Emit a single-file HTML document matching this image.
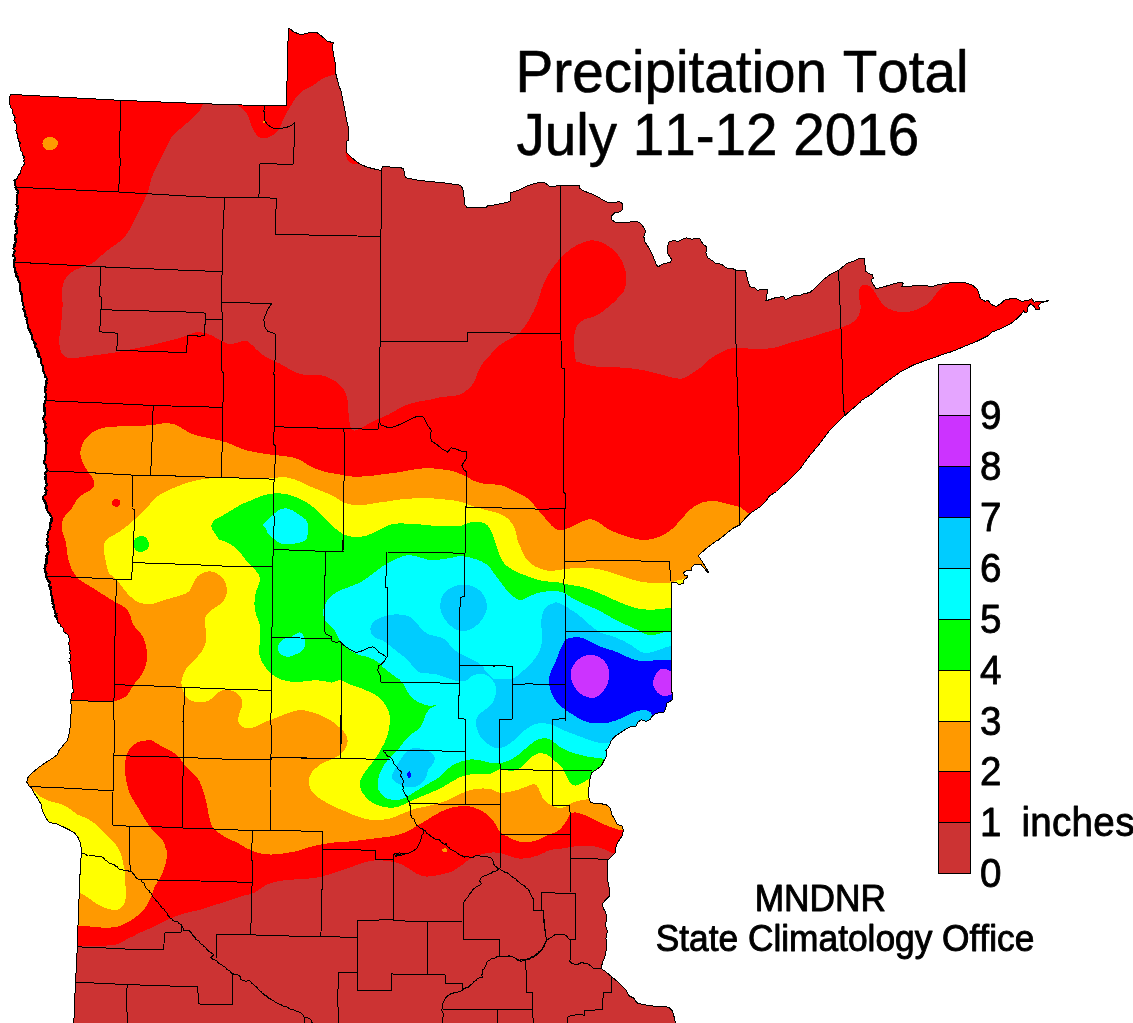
<!DOCTYPE html>
<html lang="en">
<head>
<meta charset="utf-8">
<title>Precipitation Total July 11-12 2016</title>
<style>
html,body{margin:0;padding:0;background:#fff;}
body{width:1133px;height:1023px;overflow:hidden;}
svg{display:block;}
text{font-family:"Liberation Sans",sans-serif;fill:#000;font-kerning:none;font-variant-ligatures:none;}
.tx text{stroke:#000;stroke-width:0.6px;stroke-linejoin:round;}
.tx text.c{stroke-width:0.9px;}
.tx text.n{stroke-width:0.8px;}
.tx text.u{letter-spacing:0.3px;}
.t{font-size:56.6px;}
.n{font-size:38.6px;}
.c{font-size:35.3px;text-anchor:middle;}
.cl{fill:none;stroke:#000;stroke-width:1;stroke-linejoin:round;shape-rendering:crispEdges;}
.st{fill:none;stroke:#000;stroke-width:1;stroke-linejoin:round;shape-rendering:crispEdges;}
</style>
</head>
<body>
<svg width="1133" height="1023" viewBox="0 0 1133 1023">
<defs><clipPath id="mn"><path d="M10.2,94.4L120,100.3L200,103.6L242.4,105L286.5,105.9L287.4,61.8L288.3,30.9L289.1,28.2L293.6,31.8L300.6,34.8L305.9,33.5L311.2,32.1L316.5,32.3L321.8,36.2L327.1,41L333.6,42.9L332,45.9L333.3,53L335,61.8L335.9,74.1L338.6,84.7L341.2,91.8L343,100.6L344.7,109.4L346.5,120L348.3,127.1L348.8,135.9L348.3,140.3L346.2,141.2L346.2,151.8L350,156.2L355.3,160.6L360.6,164.5L367.7,167.3L376.5,169.5L380.9,170.3L382.7,166.8L387.1,166.3L392.4,167.7L400,167.3L400,167.4L403.5,168.8L405.3,177.7L415.9,179.8L426.5,181.2L444.1,182.9L460,185.1L462.7,188.2L463.9,195.3L464.4,204.1L466.7,207.3L477.7,207.3L486.5,207.3L488.3,205L491.8,205.5L498.9,204.1L505.9,202.7L510.3,201L510.9,192.7L514.7,191.4L520,189.7L525.3,186.8L530.6,184.7L537.7,182.9L544.7,182.6L549.2,186.1L555.3,186.1L560.6,185.6L576.5,185.6L579.2,185.1L579.7,188.2L583.6,190.9L590.6,193.5L600,198L600,198.5L607.1,202.1L612.4,202.9L619.4,201.5L622.6,203.8L622.9,209.1L620.3,211.8L615,212.7L611.5,216.2L612,220.2L615.9,222.4L626.5,222.4L635.3,221.5L639.7,222.4L643.2,226.8L645.5,231.2L643.8,236.5L645,241.8L649.4,248.8L653,255.9L655.6,263L657.9,267L663.5,263.8L670.6,262.1L671.5,259.4L668,254.1L667.1,247.1L669.2,241.8L674.1,240.4L677.7,241.8L681.2,239.7L686.5,237.9L691.8,239.1L699.7,238.3L701.5,241.8L704.1,245.3L706.8,246.7L705.9,252.4L707.7,257.7L713,261.2L714.7,263L721.8,264.4L726.2,267.9L734.2,269.1L735.9,270L741.2,270.4L745.6,270L746.5,275.3L748.3,282.4L750,286.8L755.3,288L757.1,290.3L764.2,289.1L768,289.4L766.8,294.7L765.9,300.9L774.8,297.9L783.6,296.5L785.3,299.7L794.2,295.6L800,295.6L802.9,294.1L810,292.4L817.1,286.2L824.1,279.1L831.2,273.8L838.3,270.3L840.9,268.5L847.1,263.2L854.1,261L858.6,258.5L864.4,258.5L865.1,265.9L865.6,271.2L869.1,273.8L872.7,275.1L873.2,278.3L870.9,280L874.4,286.2L876.2,288.8L885.9,286.2L894.7,283.5L902.2,282.1L903.2,283.9L901.8,286.7L908.9,286.7L915.9,285.3L926.5,285.7L931.8,286.7L938.9,284.4L947.7,283.2L956.5,282.1L965.3,282.7L972.4,285L977.7,289.7L978.6,292.4L980.3,298.6L984.7,301.2L988.3,300.8L991.8,304.7L996.2,306.5L1000.6,303.8L1004.1,300.3L1011.2,298.6L1016.5,298.6L1021.8,301.2L1027.1,300.8L1031.5,298.6L1034.2,302.1L1039.5,301.6L1048.3,300.8L1041.2,303L1038.6,305.6L1039.5,309.1L1035.9,310L1034.2,306.5L1030.6,303.8L1028.9,305.6L1027.1,309.1L1028,311.8L1025.3,312.7L1023.6,310.9L1021.8,313.6L1016.5,318.9L1011.2,323.3L1004.1,326.8L998.9,329.4L991.8,332.1L988.3,335.6L983,338.3L975.9,341.8L970.6,343.9L963.5,346.7L956.5,349.7L949.4,352.4L942.4,354.5L935.3,357.3L928.2,359.5L921.2,362.1L914.1,364.7L907.1,368.3L900,372.2L885.9,382.4L878.9,387.7L871.8,393.9L864.7,398.3L862.1,400.1L860,402.4L843.6,416.5L829.5,430.6L818.9,444.7L810,455.3L799.5,469.4L794.2,474.7L787.1,481.8L781.8,486.2L776.5,491.5L769.5,495.9L765.9,501.2L760.6,506.5L755.3,510L750,513.6L744.7,518.9L739.5,525L732.4,528.6L727.1,533L721.8,537.4L718.3,540.1L719.4,538.8L707.1,547.7L698.3,555.6L701.8,560.9L708.8,572.4L708,572.8L700.9,564.4L700,564L694.7,564.4L691.2,568L691.6,570.6L685.9,571L683.2,573.2L685,575.5L687.7,575.9L686.8,578.1L684.1,579.4L683.2,583.8L678.8,584.3L675.3,582.1L671.8,582.1L671.5,583L671.5,631.8L671.5,691.8L672.6,693.6L672.6,699.8L669.5,701.5L666.8,703.3L665.9,707.7L664.2,712.1L658.9,712.6L655.3,713.9L651.8,716.5L650,720.1L649.2,719.7L646.5,721.5L641.2,719.7L637.7,722.4L635.9,726.2L630.6,726.8L625.3,729.4L620,733L614.7,736.5L611.2,740.9L608.6,747.1L605.9,750.6L606.8,755.9L604.1,760.3L601.5,765.6L597.1,769.1L591.8,772.7L590,778.9L589.1,785.9L588.3,793L589.1,798.3L590.4,802.7L598.9,803.6L605.9,804.4L610.3,808L611.6,814.2L614.7,819.5L617.4,824.7L621.8,825.6L623.2,830L622.7,835.3L620,838.9L617.4,843.3L615.6,847.7L615.1,853L611.2,856.5L608,860.1L607.7,859.8L608,865.9L607.3,874.8L608,881.8L609.4,888.9L609.8,896L605.9,899.5L602.4,903.9L603.3,908.3L605.9,912.7L606.3,918.9L605.6,926L607.3,931.3L605.9,938.3L606.8,947.1L605,956L602.4,963L601,968.3L605.9,971.9L611.2,976.3L616.5,980.7L621.8,986L626.2,990.4L628.9,995.7L634.2,998.3L636.8,1002.8L641.2,1004L648.3,1005.4L655.3,1006.3L662.4,1006.3L668.6,1007.2L672.1,1010.7L673.9,1016L675.6,1023.9L73.8,1023.9L74.5,1001.9L75.6,982.5L76.3,966.6L77.3,947.1L77.7,931.3L78.6,913.6L79.1,896L79.8,878.3L80.8,860.7L81.6,850.1L80.3,843L81.6,850L80.3,843L77.7,836.8L74.1,832.4L68.8,829.7L61.8,826.2L56.5,823.6L49.4,822.7L46.2,818.3L42.4,811.2L41,804.1L38,798.9L34.4,793.6L31.8,788.3L29.1,786.1L26.8,782.1L28.2,776.8L32.7,772.4L38,768L44.1,763.5L51.2,759.1L57.4,754.7L59.1,750.3L62.7,745.9L67.1,740.6L68.8,735.3L70.3,726.5L70.6,717.7L71.5,708.8L70.6,700L71.5,697.1L71.8,695.3L71.3,693.3L73.5,692L73.3,690L72.7,688.3L72.8,686.5L72.3,684.8L73,683L72.7,681.2L71.7,679.6L71.4,677.8L71.8,675.9L71.9,674.1L71.5,672.4L70.4,670.8L70.9,668.8L70.1,667.2L71.1,665.1L69.7,663.6L68.9,661.7L71,660.1L69.9,658.3L70.2,656.5L70.3,654.7L69.4,653L70.5,651.2L69.3,649.5L69.5,647.7L69.7,645.9L68.5,644L68.9,642L70.1,639.8L68.8,638L68.5,635.6L66.9,634.1L65.3,632.7L63.3,631.8L63.9,629L62.7,627.6L60.9,626.5L60.6,624.5L58.5,623.3L57.5,621.6L57.4,619.4L56.7,617.7L57.1,615.7L55.9,614.1L55.8,612.2L54.7,610.6L53.8,609L54.1,607.1L54.1,605.2L54,603.4L53,601.8L53.3,599.9L51.8,598.3L52.9,596.4L51.2,594.8L51.5,593L51.8,591L50.8,589.4L49.6,587.8L50,585.9L49.4,584.1L48.8,582.4L49.1,580.3L46.6,579.2L46.2,577.3L46.2,575.3L47.2,573.5L46.7,571.7L45.1,570.1L45.1,568.3L45.5,566.5L45.9,564.7L45.3,562.8L45.9,561.1L45.5,559.3L46.8,557.7L47.5,556L46.4,554L48.6,552.5L48.7,550.7L48,548.8L48.4,547L48.1,545.2L47,543.6L47.4,541.7L46.8,540L47.7,538.4L47.4,536.5L46.9,534.5L48.5,533L48.5,531.2L48.6,529.4L49.7,527.8L49.7,525.9L50.3,524.2L51.7,522.9L50.6,520.9L52.2,519.7L52.1,518L50.3,515.3L49.3,513.3L47.7,511.8L47.4,510L46,508.5L45.9,506.7L46.2,504.7L46.1,502.5L43.7,501.5L43.2,499.5L43.1,497.5L44,495.8L45,494.2L45.5,492.4L45.8,490.6L45,488.7L45.2,486.9L46.5,485.3L46.8,483.6L45.8,481.9L46.5,480L46.7,478.2L44.9,476.6L45.5,474.7L45.7,473L45.7,471.2L46.7,469.5L46.2,467.7L46.6,465.8L44.8,464.7L43.9,463.3L43.8,461.5L45.1,460.2L43.8,458L44.9,456.6L45.5,455.1L46.2,453.6L45.4,451.8L46.4,450L45.9,448.3L45.1,446.5L45.5,444.7L45.5,442.9L46.3,441.2L45.7,439.4L46.2,437.7L44.9,436.1L45.3,434.2L44.3,432.5L44.5,430.6L45,428.9L44.4,427L44.5,425.2L45.5,423.5L45.6,421.4L43.7,420.2L43.2,418.3L43.6,416.3L44.9,414.8L45.5,413L45.6,411.1L45.2,409.4L45.1,407.5L44.1,405.9L44.1,404L44.9,402.3L45.5,400.6L45.5,398.8L46,397.1L46.2,395.3L46,393.5L45.6,391.7L44,390.2L44.5,388.2L45,386.4L46.4,384.9L46.8,382.9L45.6,381.3L47,379.4L46.2,377.7L46,375.8L44.8,374.2L44.3,372.4L43.4,370.8L43.2,368.8L43.3,366.9L42.3,365.3L41.4,363.7L40.4,362L41,360L40.1,358.6L40.7,356.7L39.7,355.3L39,353.9L39.1,352.1L36.7,351.3L37.1,349.5L36.6,347.6L35,346.2L34.7,344.3L33.6,342.7L33.5,340.6L32.5,339L32.9,336.8L31.9,335.2L31.4,333.3L30,331.8L28.6,330.3L28.5,328.4L29,326.3L26.9,325L27.4,323L26.3,321.4L25.8,319.6L27,317.6L25.4,316L25.6,314.2L24.9,312.4L23.5,310.9L23.2,309.1L23.5,307.1L22.9,305.3L23.4,303.5L22.2,301.8L22,300.1L21.2,298.4L22.1,296.5L20.8,294.9L20.6,293.1L20.4,291.3L20.8,289.4L20.3,287.7L19.5,286L20.2,283.8L18.3,282.5L18.9,280.4L17.7,278.9L16.3,277.3L16.8,275.3L16.4,273.5L16.2,271.7L15.3,270.1L15,268.3L14.6,266.2L14.8,264L13.8,262.1L13.1,260.4L14,258.8L14.1,257.2L14.6,255.6L13.3,254L14.1,252.4L14.1,250.6L13.4,248.7L15,247.1L15.6,245.4L15,243.5L15,241.7L16.3,240.1L16.2,238.3L15.1,236.3L16.4,234.7L16.8,233L15.7,231.3L16.1,229.5L17.1,227.6L15.5,225.9L16.4,224.1L15.1,222.4L15.1,220.7L15.9,218.8L17.2,217.2L15.6,215.2L16.1,213.4L18,211.9L16.9,209.9L17.7,208.2L16.9,206.5L16.4,204.8L17.1,202.9L16,201.3L16.8,199.4L16.3,197.6L16.5,195.8L17.8,194.2L16.7,192.3L17.7,190.6L16.9,188.7L15.4,187.3L15,185.3L15.8,183.4L15.5,181.6L14.1,180L16,179.5L17.1,178.3L17.7,176.5L18.6,174.8L20.3,173.4L20.3,171.2L21.5,169.6L21.4,167.4L22.9,165.9L24,164.6L24.7,163.1L23.5,161L25.1,159.8L23.8,158.6L24.2,156.5L22.9,155.3L23,153.4L22,151.8L20.6,150.3L20.8,148.3L19.9,146.6L19.3,144.9L20.5,142.7L18.4,141.4L18.5,139.5L17.7,137.8L17.9,135.8L17.3,134.1L16.5,132.4L15.9,130.6L16.2,128.9L16.7,127.1L16.8,125.3L15.9,123.6L14.5,122L13.8,120.3L15.2,118L14.6,116.2L13.2,114.7L12.4,113.1L12,111.3L12,109.3L11,107.7L10.6,105.9L9.5,104.3L9.6,102.5L9.5,100.7L9.7,98.9Z"/></clipPath></defs>
<rect x="0" y="0" width="1133" height="1023" fill="#fff"/>
<g clip-path="url(#mn)" shape-rendering="crispEdges">
<rect x="0" y="0" width="1133" height="1023" fill="#ff0000"/>
<path fill="#cc3333" d="M204.4,103.3C207.9,101.6 221.2,100.6 221.2,100.6L237.1,105.2C237.1,105.2 242.2,108.4 244.1,110.3C246,112.2 247.4,114 248.5,116.5C249.7,119 250.2,122.7 251.2,125.3C252.2,128 253.3,130.3 254.7,132.4C256.2,134.5 258,136.8 260,137.7C262.1,138.6 264.7,138.3 267.1,137.7C269.4,137.1 272.1,135.6 274.1,134.2C276.2,132.7 278,131.2 279.4,128.9C280.9,126.5 281.8,122.7 283,120C284.1,117.4 285,115.6 286.5,113C288,110.3 290,106.9 291.8,104.1C293.6,101.4 295,98.6 297.1,96.2C299.1,93.9 301.5,91.8 304.1,90C306.8,88.3 310.3,87.2 313,85.6C315.6,84 317.7,81.8 320,80.3C322.4,78.8 324.6,77.8 327.1,76.8C329.6,75.8 332.7,75.2 335,74.1C337.4,73.1 341.2,70.6 341.2,70.6L360,0L1000,0L1000,270L953,280C953,280 950.9,282.5 949.4,283.5C948,284.6 946,284.9 944.1,286.2C942.2,287.5 939.9,289.4 938,291.5C936,293.6 934.6,296.3 932.7,298.6C930.7,300.8 929,303 926.5,304.7C924,306.5 920.6,308 917.7,309.1C914.7,310.3 911.8,311.4 908.8,311.8C905.9,312.2 902.3,311.9 900,311.8C897.7,311.6 896.8,311.5 894.7,310.9C892.7,310.3 889.7,309.4 887.7,308.3C885.6,307.1 884,305.6 882.4,303.8C880.8,302.1 879.3,299.7 878,297.7C876.6,295.6 875.8,293.3 874.4,291.5C873.1,289.7 871.6,287.8 870,286.7C868.4,285.6 866.3,284.9 864.7,285C863.1,285 861.3,285.8 860.3,287.1C859.3,288.3 858.7,290.3 858.6,292.4C858.4,294.4 859.1,297.1 859.4,299.4C859.8,301.8 860.8,304.1 860.8,306.5C860.8,308.8 860.3,311.4 859.4,313.6C858.6,315.8 857.7,317.9 855.9,319.7C854.1,321.6 851.3,323.2 848.8,324.5C846.3,325.8 843.5,326.7 840.9,327.7C838.3,328.6 836,329.4 833,330.3C829.9,331.3 825.9,332.2 822.4,333.3C818.8,334.4 815.3,335.7 811.8,336.9C808.2,338 804.7,339.1 801.2,340C797.7,341 794.1,341.7 790.6,342.7C787.1,343.7 783.8,345.2 780,346.2C776.2,347.2 772.7,348.2 767.7,348.6C762.7,349 755.3,348.7 750,348.6C744.7,348.5 739.7,347.9 735.9,348C732.1,348.2 730.3,348.3 727.1,349.5C723.9,350.6 719.6,353 716.5,354.8C713.4,356.5 710.9,358.1 708.6,360.1C706.2,362 704.9,364.1 702.4,366.2C699.9,368.2 696.5,370.4 693.6,372.4C690.6,374.3 687.4,376.6 684.7,377.7C682.1,378.7 680.6,378.8 677.7,378.5C674.7,378.3 671.2,377.3 667.1,376.2C663,375.2 658.3,373.6 653,372.4C647.7,371.1 641.2,369.6 635.3,368.8C629.4,368 623.5,367.7 617.7,367.4C611.8,367.1 603.9,367.3 600,367.1C596.1,366.9 596.3,366.5 594.2,366.2C592,365.8 589.5,365.5 587.1,364.9C584.8,364.4 582,363.5 580.1,362.6C578.1,361.8 576.7,363.8 575.6,360C574.6,356.2 574,344.8 573.9,340.1C573.8,335.3 574.5,333.7 575.1,331.2C575.7,328.7 576,327 577.4,325C578.8,323.1 581.1,321.1 583.6,319.8C586.1,318.4 589.7,318.1 592.4,317.1C595.1,316.1 598.1,314.7 600,313.6C601.9,312.5 601.8,312 603.5,310.6C605.3,309.3 608.2,307.4 610.6,305.3C612.9,303.3 615.4,300.6 617.7,298.3C619.9,295.9 622.4,293.9 623.8,291.2C625.2,288.6 625.8,285.6 626.1,282.4C626.4,279.1 626.3,275.3 625.6,271.8C624.9,268.3 623.7,264.4 622.1,261.2C620.4,258 618.4,255 615.9,252.4C613.4,249.7 609.7,247.1 607.1,245.3C604.4,243.5 602.7,242.6 600,241.8C597.3,241 593.7,240.1 590.6,240.3C587.6,240.5 584.8,241.8 581.8,243C578.9,244.1 575.9,245.5 573,247.4C570.1,249.3 567.1,251.6 564.2,254.4C561.2,257.2 558,260.8 555.3,264.1C552.7,267.5 550.3,271.2 548.3,274.7C546.2,278.3 544.5,281.8 543,285.3C541.5,288.9 540.6,292.4 539.5,295.9C538.3,299.5 537.2,303.3 535.9,306.5C534.6,309.7 533.1,312.4 531.5,315.3C529.9,318.3 528.1,321.4 526.2,324.2C524.3,327 522.2,329.9 520,332.1C517.8,334.3 515,336.1 513,337.4C510.9,338.7 510,338.6 507.7,340.1C505.3,341.5 502.6,342.7 498.9,346C495.2,349.3 488.4,356.9 485.6,360C482.8,363.1 483.3,362.6 482.1,364.4C480.9,366.2 479.6,368.4 478.6,370.6C477.5,372.8 476.9,375.3 475.9,377.7C474.9,380 473.8,382.7 472.4,384.7C470.9,386.8 469.1,388.4 467.1,390C465,391.6 462.7,393.4 460,394.4C457.4,395.5 454.4,395.7 451.2,396.2C448,396.6 444.1,396.5 440.6,397.1C437.1,397.7 433.5,399 430,399.7C426.5,400.5 422.9,400.7 419.4,401.5C415.9,402.2 412.1,403 408.8,404.1C405.6,405.2 403.3,406.3 400,408C396.7,409.7 392.5,412.5 388.9,414.4C385.3,416.2 381.8,417.5 378.3,419.1C374.8,420.8 370.8,422.8 367.7,424.4C364.6,426 362,427.8 359.8,428.8C357.5,429.9 355.9,430.8 354.5,430.6C353,430.5 351.8,429.7 350.9,428C350,426.2 349.6,423.1 349.2,420C348.7,416.9 348.6,413 348.3,409.4C348,405.9 348.1,402.1 347.4,398.8C346.7,395.6 345.5,392.7 343.9,390C342.2,387.4 340.2,385 337.7,382.9C335.2,380.9 331.8,379 328.9,377.7C325.9,376.3 323.3,375.4 320,375C316.8,374.6 312.7,375.2 309.4,375C306.2,374.9 303.6,374.9 300.6,374.1C297.7,373.4 294.4,371.9 291.8,370.6C289.1,369.3 287.1,367.5 284.7,366.2C282.4,364.9 280,363.8 277.7,362.6C275.3,361.5 272.7,360.2 270.6,359.2C268.5,358.1 267.4,357.8 265.3,356.5C263.3,355.2 260.3,353 258.3,351.2C256.2,349.5 254.7,347.5 253,345.9C251.2,344.3 249.4,342.3 247.7,341.5C245.9,340.7 244.4,340.7 242.4,341C240.3,341.3 237.7,342.8 235.3,343.3C233,343.8 230.6,344.3 228.2,343.8C225.9,343.4 223.5,341.8 221.2,340.6C218.8,339.5 216.5,337.9 214.1,336.8C211.8,335.6 209.4,334.3 207.1,333.6C204.7,332.8 202.1,332.3 200,332.2C197.9,332 196.3,332.2 194.2,332.7C192,333.2 190.1,334.3 187.1,335.3C184.2,336.4 180.6,337.7 176.5,338.9C172.4,340 167.1,341.2 162.4,342.4C157.7,343.6 153,344.9 148.3,345.9C143.6,347 138.9,347.6 134.2,348.6C129.4,349.5 124.7,350.7 120,351.6C115.3,352.5 110.6,353.2 105.9,353.9C101.2,354.6 96.2,355.1 91.8,355.6C87.4,356.2 83.3,357 79.4,357.4C75.6,357.8 71.6,358.7 68.8,358.3C66,357.8 64.1,356.5 62.7,354.8C61.2,353 60.6,350.3 60,347.7C59.4,345 59,342.1 59.1,338.9C59.3,335.6 60.5,332.1 60.9,328.3C61.3,324.5 61.5,320 61.8,315.9C62.1,311.8 62.7,307.7 62.7,303.6C62.7,299.4 61.5,295 61.8,291.2C62.1,287.4 63,283.7 64.4,280.6C65.9,277.5 67.8,274.9 70.6,272.7C73.4,270.5 77.7,268.8 81.2,267.4C84.7,265.9 88.8,265.5 91.8,263.8C94.7,262.2 95.9,260.2 98.9,257.7C101.8,255.2 105.6,251.8 109.4,248.8C113.3,245.9 118.4,243.3 121.8,240C125.2,236.8 127.4,233.3 129.7,229.4C132.1,225.6 133.7,221.5 135.9,217.1C138.1,212.7 140.9,207.4 143,202.9C145,198.5 147,194.4 148.3,190.6C149.6,186.8 149.7,183.5 150.9,180C152.1,176.5 153.7,173 155.3,169.5C157,165.9 158.9,162.4 160.6,158.9C162.4,155.3 164.2,151.8 165.9,148.3C167.7,144.7 168.9,140.9 171.2,137.7C173.6,134.5 176.8,131.8 180.1,128.9C183.3,125.9 187.3,123.1 190.6,120C194,116.9 197.7,113.1 200,110.3C202.3,107.5 200.9,104.9 204.4,103.3Z"/>
<path fill="#ff0000" d="M345.6,151.8C345,151.8 345.9,154 346.2,155.3C346.5,156.7 346.6,158.4 347.4,159.8C348.2,161.1 349.5,162.6 350.9,163.3C352.4,164 354.9,164 356.2,163.8C357.5,163.7 359.9,163.8 358.9,162.4C357.8,161 352.3,157.1 350,155.3C347.8,153.6 346.3,151.8 345.6,151.8Z"/>
<path fill="#cc3333" d="M67.1,946.3C67.1,946.3 75,946.3 78.6,946.3C82.1,946.3 84.9,946.4 88.3,946.3C91.6,946.2 95.3,945.9 98.9,945.7C102.4,945.6 106.2,945.7 109.4,945.4C112.7,945.1 115.6,944.9 118.3,944C120.9,943.1 122.7,941.5 125.3,940.1C128,938.7 131.2,937.1 134.2,935.7C137.1,934.2 140,932.6 143,931.3C145.9,929.9 148.9,929.1 151.8,927.7C154.8,926.4 157.7,924.8 160.6,923.3C163.6,921.8 166.5,920.2 169.5,918.9C172.4,917.6 175.3,916.4 178.3,915.4C181.2,914.3 184.5,913.5 187.1,912.7C189.8,912 192,911.5 194.2,911C196.3,910.5 197.3,910.5 200,909.7C202.7,908.9 207.1,907.3 210.6,906.2C214.1,905.1 217.7,904.1 221.2,903C224.7,901.9 228.2,900.7 231.8,899.5C235.3,898.3 238.8,897 242.4,896C245.9,894.9 250,894.5 253,893.3C255.9,892.1 257.7,890.4 260,888.9C262.4,887.4 264.4,885.7 267.1,884.5C269.7,883.3 272.7,882.6 275.9,881.8C279.1,881.1 282.7,880.5 286.5,880.1C290.3,879.6 294.7,879.5 298.9,879.2C303,878.9 307.4,878.7 311.2,878.3C315,877.9 318.6,877.3 321.8,876.5C325,875.8 327.4,874.9 330.6,873.9C333.9,872.9 338,871.4 341.2,870.4C344.4,869.3 347.1,868.7 350,867.7C352.9,866.7 355.9,865.2 358.8,864.2C361.8,863.2 364.7,862.2 367.7,861.5C370.6,860.9 373.5,860.4 376.5,860.3C379.4,860.2 382.4,860.4 385.3,860.7C388.2,860.9 391.2,861.3 394.1,862.1C397.1,862.8 400.3,863.8 403,865.1C405.6,866.3 407.7,868 410,869.5C412.4,870.9 414.4,872.7 417.1,873.9C419.7,875.1 423,876.2 425.9,876.5C428.8,876.8 431.8,876.1 434.7,875.7C437.7,875.2 440.6,874.6 443.6,873.9C446.5,873.2 449.7,872.4 452.4,871.2C455,870.1 457.1,868.4 459.4,866.8C461.8,865.2 464.2,863.2 466.5,861.5C468.9,859.9 471.2,858.3 473.6,857.1C475.9,855.9 478,855.2 480.6,854.5C483.3,853.7 486.5,853 489.5,852.7C492.4,852.4 495.6,852.4 498.3,852.7C500.9,853 503,853.7 505.3,854.5C507.7,855.2 510,856.4 512.4,857.1C514.8,857.8 516.8,858.4 519.5,858.5C522.1,858.7 525.3,858.5 528.3,858C531.2,857.5 534.5,856.6 537.1,855.7C539.8,854.8 542,853.7 544.2,852.7C546.3,851.8 546.8,850.8 550,850.1C553.2,849.3 559.5,848.9 563.5,848.3C567.6,847.7 570.6,847 574.1,846.5C577.7,846.1 581.2,845.6 584.7,845.6C588.3,845.6 592.1,845.9 595.3,846.5C598.6,847.1 601.5,848.1 604.1,849.2C606.8,850.2 609.4,852 611.2,852.7C613,853.4 612.7,853.2 614.7,853.6C616.8,854 623.6,855.4 623.6,855.4L720,1100L0,1100L67.1,946.3Z"/>
<path fill="#ff9900" d="M80.3,452.7C80.4,450.2 80.9,447.4 82.1,444.7C83.3,442.1 85.2,439.1 87.4,436.8C89.6,434.4 92.2,432.2 95.3,430.6C98.4,429 101.2,428.2 105.9,427.4C110.6,426.7 117.7,426.5 123.6,426.2C129.4,425.9 136.2,425.9 141.2,425.7C146.2,425.5 149.7,425.4 153.6,425C157.4,424.5 160.6,423.3 164.2,423.2C167.7,423.1 171.5,423.4 174.8,424.4C178,425.4 180.9,427.7 183.6,429.2C186.2,430.7 187.9,432.1 190.6,433.3C193.4,434.4 196.7,435.4 200,436.3C203.3,437.1 207.1,437.8 210.6,438.6C214.1,439.3 217.7,439.9 221.2,440.8C224.7,441.8 228.2,443 231.8,444.4C235.3,445.8 238.8,447.9 242.4,449.1C245.9,450.4 249.4,451.1 253,451.8C256.5,452.5 260,453 263.5,453.6C267.1,454.1 270.6,454.5 274.1,455C277.7,455.4 281.2,455.7 284.7,456.2C288.3,456.7 292.1,456.9 295.3,458C298.6,459 301.5,460.9 304.1,462.4C306.8,463.9 308.6,465.5 311.2,466.8C313.9,468.1 316.8,469.3 320,470.3C323.3,471.4 327.1,472.2 330.6,473C334.2,473.7 337.7,474.2 341.2,474.7C344.7,475.3 348.3,476.2 351.8,476.5C355.3,476.8 358.9,476.7 362.4,476.5C365.9,476.4 369.2,476.1 373,475.6C376.8,475.2 380.8,474.4 385.3,473.9C389.8,473.3 396.1,472.7 400,472.1C403.9,471.5 405.9,470.8 408.8,470.3C411.8,469.8 414.4,469.5 417.7,469.1C420.9,468.7 424.7,468 428.2,468C431.8,468 435.3,468.7 438.8,469.1C442.4,469.5 446.2,469.7 449.4,470.3C452.7,471 455.4,471.9 458.3,473C461.1,474.1 464.1,475.5 466.7,476.9C469.4,478.2 471.4,479.8 474.1,480.9C476.8,482 480,483 483,483.6C485.9,484.2 488.8,484.2 491.8,484.4C494.7,484.7 497.7,484.2 500.6,485C503.6,485.7 506.5,487.5 509.4,488.9C512.4,490.2 515.6,492 518.3,493.3C520.9,494.6 523.3,495.5 525.3,496.8C527.4,498.1 528.9,499.5 530.6,501.2C532.4,503 534.2,505.3 535.9,507.4C537.7,509.5 539.5,511.5 541.2,513.6C543,515.6 544.7,517.7 546.5,519.8C548.3,521.8 550,524.3 551.8,525.9C553.6,527.5 555,528.9 557.1,529.5C559.2,530.1 561.8,529.9 564.2,529.5C566.5,529 568.9,527.8 571.2,526.8C573.6,525.8 575.9,524.4 578.3,523.3C580.6,522.2 583.3,521 585.3,520.3C587.4,519.6 588.9,519.1 590.6,519.2C592.4,519.3 594.4,520.3 595.9,521C597.5,521.7 597.9,521.9 600,523.3C602.1,524.7 605.6,527.7 608.8,529.5C612.1,531.2 615.9,532.6 619.4,533.9C622.9,535.2 626.5,536.4 630,537.4C633.5,538.4 637.1,539.4 640.6,539.7C644.1,540 647.7,539.8 651.2,539.2C654.7,538.5 658.5,537.1 661.8,535.6C665,534.2 668,532.4 670.6,530.3C673.3,528.3 675.3,525.8 677.7,523.3C680,520.8 682.4,517.8 684.7,515.3C687.1,512.8 689.1,510.3 691.8,508.3C694.4,506.2 697.7,504.2 700.6,503C703.6,501.8 706.5,501.5 709.4,501.2C712.4,501 715.3,501.1 718.3,501.6C721.2,502 724.4,503.2 727.1,503.9C729.7,504.5 732.1,505.1 734.2,505.6C736.2,506.1 738,506.3 739.5,506.9C740.9,507.5 741.8,508.3 743,509.2C744.2,510 745,511.1 746.5,512.2C748,513.2 751.8,515.3 751.8,515.3L800,520L800,829L640,829L622.7,830.4C622.7,830.4 618.7,829.8 616.5,829.2C614.3,828.5 611.8,827.4 609.4,826.5C607.1,825.6 604.7,824.9 602.4,823.9C600,822.8 597.7,821.5 595.3,820.3C593,819.2 590.6,817.9 588.3,816.8C585.9,815.7 583.6,814.5 581.2,813.8C578.8,813.1 576.1,812.2 574.1,812.4C572.2,812.6 571.1,813.6 569.7,815C568.4,816.5 567.5,819.2 566.2,821.2C564.9,823.3 563.4,825.6 561.8,827.4C560.2,829.2 558.5,830.6 556.5,831.8C554.4,833 551.8,833.4 549.4,834.5C547.1,835.5 544.7,837 542.4,838C540,839 537.7,839.9 535.3,840.6C533,841.4 530.6,842.2 528.2,842.4C525.9,842.6 523.5,842.5 521.2,842C518.8,841.6 516.5,840.7 514.1,839.8C511.8,838.8 509.4,837.5 507.1,836.2C504.7,835 502.1,834.5 500,832.2C497.9,829.8 496.3,825 494.2,822.1C492,819.2 489.8,816.7 487.1,814.5C484.5,812.4 481.2,810.6 478.3,809.2C475.3,807.9 472.4,806.9 469.5,806.4C466.5,805.9 463.9,805.9 460.6,806.2C457.4,806.5 453.6,806.9 450,808C446.5,809 442.7,810.8 439.5,812.4C436.2,814 433.6,815.9 430.6,817.7C427.7,819.5 424.7,821.2 421.8,823C418.9,824.7 415.9,826.7 413,828.3C410,829.9 407.7,831.4 404.1,832.7C400.6,834 396.2,835.3 391.8,836.2C387.4,837.1 382.4,837.4 377.7,838C373,838.6 368.3,839.2 363.5,839.8C358.8,840.3 354.1,841.1 349.4,841.5C344.7,842 339.7,842 335.3,842.4C330.9,842.8 327.1,843.4 322.9,844.2C318.8,844.9 314.4,845.8 310.6,846.8C306.8,847.8 303.2,849.5 300,850.3C296.8,851.2 294.4,851.6 291.2,852.2C288,852.8 284.2,853.5 280.6,853.9C277.1,854.3 273.6,854.6 270,854.5C266.5,854.3 262.7,854 259.4,853.2C256.2,852.5 253.3,851.2 250.6,850C248,848.9 245.9,847.8 243.6,846.5C241.2,845.2 239.1,843.4 236.5,842.1C233.8,840.8 230.3,839.9 227.7,838.6C225,837.2 223,835.8 220.6,834.2C218.3,832.5 215.2,830.6 213.5,828.9C211.9,827.1 211.6,825.6 210.9,823.6C210.2,821.5 209.7,819.2 209.1,816.5C208.5,813.9 208,810.6 207.4,807.7C206.8,804.7 206.3,801.8 205.6,798.9C204.9,795.9 204,793 203,790C201.9,787.1 200.9,783.8 199.4,781.2C198,778.6 196.2,776.3 194.1,774.1C192.1,771.9 189.1,770.2 187.1,768C185,765.8 183.5,763.1 181.8,760.9C180,758.7 178.5,756.5 176.5,754.7C174.4,753 171.8,751.6 169.4,750.3C167.1,749 164.7,748.1 162.4,746.8C160,745.5 157.3,743.5 155.3,742.4C153.2,741.3 153,740.2 150,740.2C147.1,740.2 140.9,741.1 137.7,742.4C134.5,743.6 132.5,745.3 130.6,747.7C128.7,750 127.2,753.3 126.2,756.5C125.3,759.7 125.1,763.5 125,767.1C124.9,770.6 125.2,774.1 125.7,777.7C126.2,781.2 127,785 128,788.3C128.9,791.5 130.2,794.4 131.5,797.1C132.8,799.7 134.3,801.5 135.9,804.1C137.5,806.8 139.5,810 141.2,813C143,815.9 144.7,819.2 146.5,821.8C148.3,824.4 149.9,826.7 151.8,828.9C153.7,831.1 156.1,833 158,835C159.9,837.1 161.9,838.7 163.3,841.2C164.7,843.7 165.7,848.9 166.3,850C166.9,851.2 166.7,847.1 166.8,848.3C166.9,849.5 167.1,854.2 166.8,857.1C166.5,860.1 165.8,863.3 165,865.9C164.3,868.6 163.4,870.7 162.4,873C161.4,875.4 160,878 158.9,880.1C157.7,882.1 156.4,883.3 155.3,885.4C154.3,887.4 153.6,890.1 152.7,892.4C151.8,894.8 151.4,896.8 150,899.5C148.7,902.1 146.8,905.7 144.7,908.3C142.7,911 140.3,913.2 137.7,915.4C135,917.6 131.8,919.8 128.9,921.6C125.9,923.3 123.3,924.9 120,926C116.8,927 113,927.5 109.4,927.7C105.9,928 102.4,927.6 98.9,927.4C95.3,927.1 91.6,926.6 88.3,926.3C84.9,926 82.1,925.8 78.6,925.6C75,925.4 67.1,925.1 67.1,925.1L0,925L0,701L67.1,701L113,702C113,702 114.2,701.5 115.6,701C117.1,700.5 119.9,699.8 121.8,698.9C123.7,697.9 125.6,696.8 127.1,695.3C128.6,693.9 129.4,692 130.6,690C131.8,688.1 132.7,685.9 134.2,683.9C135.6,681.8 137.8,679.9 139.5,677.7C141.1,675.5 142.7,673.3 143.9,670.6C145,668 146,664.7 146.5,661.8C147,658.9 147,655.9 146.9,653C146.7,650 146.4,647.1 145.6,644.1C144.8,641.2 143.6,637.8 142.1,635.3C140.6,632.8 138.4,631.2 136.8,629.1C135.2,627.1 133.4,625.2 132.4,623C131.4,620.8 131.5,618.1 130.6,615.9C129.7,613.7 128.6,611.5 127.1,609.7C125.6,608 123.9,606.6 121.8,605.3C119.7,604 117.1,603.1 114.7,601.8C112.4,600.5 110,598.8 107.7,597.4C105.3,595.9 103,594.4 100.6,593C98.3,591.5 95.9,590 93.6,588.5C91.2,587.1 88.8,585.6 86.5,584.1C84.1,582.7 81.5,581.5 79.4,579.7C77.4,578 75.6,575.7 74.1,573.5C72.7,571.3 71.6,569.1 70.6,566.5C69.6,563.8 68.6,560.6 68,557.7C67.3,554.7 67.2,551.8 66.7,548.8C66.3,545.9 66.1,542.9 65.3,540C64.5,537.1 62.7,533.9 62.1,531.2C61.5,528.6 61.5,526.4 61.8,524.2C62,522 62.5,519.9 63.5,518C64.6,516.1 66.5,514.5 68,512.7C69.4,510.9 71.1,509.3 72.4,507.4C73.7,505.5 74.6,503.1 75.9,501.2C77.2,499.3 78.6,497.4 80.3,495.9C82.1,494.5 84.6,493.6 86.5,492.4C88.4,491.2 90.5,490.2 91.8,488.9C93.1,487.5 94.3,486.2 94.4,484.4C94.6,482.7 93.6,480.2 92.7,478.3C91.8,476.4 90.5,474.9 89.1,473C87.8,471.1 86,469 84.7,466.8C83.5,464.6 82.3,462.1 81.6,459.7C80.8,457.4 80.2,455.2 80.3,452.7Z"/>
<path fill="#ff0000" d="M112.1,503C112.1,502 112.7,500.7 113.3,500C114,499.3 115.2,498.9 116.2,498.9C117.1,498.9 118.4,499.4 119.2,500C119.9,500.6 120.4,501.7 120.4,502.6C120.4,503.6 120,504.9 119.3,505.6C118.7,506.3 117.5,506.8 116.5,506.9C115.5,506.9 114.2,506.6 113.5,506C112.8,505.3 112.1,504 112.1,503Z"/>
<path fill="#ff9900" d="M42.4,143.3C42.4,142 43,140.5 43.8,139.5C44.6,138.4 45.9,137.6 47.3,137.2C48.7,136.7 50.6,136.7 52.1,137C53.5,137.3 55.1,138.2 56.1,139.1C57.1,140 58,141.3 58.1,142.6C58.2,143.9 57.7,145.7 56.8,146.9C56,148 54.5,149.2 53,149.7C51.4,150.2 49.2,150.4 47.7,150C46.1,149.7 44.7,148.7 43.8,147.6C42.9,146.5 42.4,144.7 42.4,143.3Z"/>
<path fill="#ff9900" d="M441.8,850.4C441.8,849.9 442.8,849 443.6,848.6C444.3,848.3 445.6,848.1 446.2,848.3C446.9,848.5 447.4,849.5 447.4,850.1C447.4,850.6 446.9,851.5 446.2,851.8C445.6,852.1 444.3,852.1 443.6,851.8C442.8,851.6 441.8,850.9 441.8,850.4Z"/>
<path fill="#ffff00" d="M105.9,540.1C107.5,538 110.6,537.1 113,535.6C115.3,534.2 117.7,532.8 120,531.2C122.4,529.6 124.7,527.8 127.1,525.9C129.4,524 131.8,521.8 134.2,519.8C136.5,517.7 138.9,515.8 141.2,513.6C143.6,511.4 146.2,508.9 148.3,506.5C150.3,504.2 151.5,501.5 153.6,499.5C155.6,497.4 158,495.8 160.6,494.2C163.3,492.5 166.2,491.2 169.5,489.7C172.7,488.3 176.5,486.7 180.1,485.3C183.6,484 187.3,482.7 190.6,481.8C194,480.9 196.7,480.3 200,479.7C203.3,479.1 207,478.6 210.6,478.3C214.2,478 214.5,477.9 221.5,477.9C228.6,478 244.2,478.6 253,478.6C261.7,478.6 269.1,478.2 274.1,477.9C279.1,477.6 280,476.7 283,476.9C285.9,477 288.8,477.8 291.8,478.6C294.7,479.4 297.7,480.5 300.6,481.8C303.6,483.1 306.5,484.9 309.4,486.2C312.4,487.5 315.3,488.6 318.3,489.7C321.2,490.9 324.2,492 327.1,493.3C330,494.6 333.3,496.2 335.9,497.7C338.6,499.2 340.6,501 343,502.1C345.3,503.2 347.4,503.9 350,504.4C352.7,504.9 355.9,505.1 358.9,505.1C361.8,505.1 364.5,504.8 367.7,504.4C370.9,504 374.8,503.2 378.3,502.6C381.8,502.1 385.3,501.7 388.9,501.2C392.5,500.7 396.4,499.9 400,499.5C403.6,499 406.8,498.8 410.6,498.6C414.4,498.3 418.8,498 422.9,498C427.1,498 431.2,498.3 435.3,498.6C439.4,498.9 443.8,499.4 447.7,499.8C451.5,500.2 455.1,500.5 458.3,501.2C461.4,501.9 464.1,503 466.7,503.9C469.4,504.7 471.4,505.6 474.1,506.5C476.8,507.4 480,508.3 483,509.2C485.9,510 489.1,510.7 491.8,511.5C494.4,512.2 496.5,512.6 498.9,513.6C501.2,514.5 503.9,515.6 505.9,517.1C508,518.6 509.7,520.5 511.2,522.4C512.7,524.3 513.9,526.5 514.7,528.6C515.6,530.6 516.1,532.8 516.5,534.8C516.9,536.7 516.6,537.7 517.4,540.1C518.2,542.4 519.7,545.6 521.2,548.8C522.7,552.1 524.1,556.5 526.5,559.4C528.8,562.4 532.1,564.7 535.3,566.5C538.5,568.3 542.4,569.7 545.9,570.4C549.4,571 553.4,570.6 556.5,570.4C559.6,570.2 561.5,569.5 564.4,569.1C567.4,568.8 570.8,568.4 574.1,568.2C577.5,568 581.2,567.8 584.7,567.9C588.3,567.9 591.8,568.1 595.3,568.6C598.9,569.1 602.4,569.9 605.9,570.9C609.4,571.9 613,573.2 616.5,574.4C620,575.6 623.6,576.9 627.1,578C630.6,579 634.2,580.2 637.7,581C641.2,581.7 644.7,582.3 648.3,582.7C651.8,583.1 655.1,583.3 658.9,583.2C662.6,583.2 667.8,582.9 670.9,582.4C673.9,581.9 675,580.8 677.1,580.3C679.1,579.8 681.2,579.6 683.2,579.4C685.3,579.3 689.4,579.4 689.4,579.4L720,590L720,802L640,802L590.4,798.6C590.4,798.6 586.8,799.3 584.7,799.7C582.6,800.1 580,800.3 577.7,800.9C575.3,801.6 572.7,802.6 570.6,803.6C568.5,804.5 567.4,806 565.3,806.7C563.3,807.5 560.6,808.3 558.3,808C555.9,807.7 553.3,806 551.2,805C549.1,803.9 547.4,803.1 545.9,801.8C544.4,800.5 543.4,799.2 542.4,797.4C541.3,795.6 540.6,793.1 539.7,791.2C538.8,789.3 538.1,787.1 537.1,785.9C536,784.7 535,784.1 533.5,784.1C532.1,784.1 530.3,785.2 528.2,785.9C526.2,786.6 523.5,787.7 521.2,788.6C518.8,789.4 516.5,790.3 514.1,790.9C511.8,791.4 509.4,791.7 507.1,792.1C504.7,792.4 502.7,793.5 500,793C497.3,792.5 494,789.8 490.6,789.1C487.3,788.4 483.6,788.4 480.1,788.6C476.5,788.8 473,789.3 469.5,790.3C465.9,791.4 462.4,793.1 458.9,794.7C455.3,796.4 451.8,798.6 448.3,800C444.7,801.5 441.2,802.5 437.7,803.6C434.2,804.6 430.6,805.4 427.1,806.2C423.6,807 419.7,807.6 416.5,808.5C413.3,809.4 410.6,810.4 407.7,811.5C404.7,812.6 401.8,813.9 398.9,815C395.9,816.2 393.3,817.8 390,818.6C386.8,819.4 383,819.7 379.4,819.8C375.9,820 372.4,820 368.8,819.5C365.3,819 361.8,818 358.3,816.8C354.7,815.6 351.2,813.9 347.7,812.4C344.1,810.9 340.3,809.4 337.1,808C333.8,806.5 331.2,805.2 328.2,803.6C325.3,801.9 321.9,800 319.4,798.3C316.9,796.5 314.9,794.9 313.2,793C311.6,791.1 310.4,789 309.7,786.8C309,784.6 308.5,782.1 308.8,779.7C309.1,777.4 310,774.9 311.5,772.7C312.9,770.5 315.4,768.3 317.7,766.5C319.9,764.7 322.1,763.4 324.7,762.1C327.4,760.8 330.9,759.9 333.5,758.6C336.2,757.2 338.7,755.8 340.6,754.1C342.5,752.5 343.8,750.9 345,748.8C346.2,746.8 347.5,744.1 347.7,741.8C347.8,739.4 347.1,736.9 345.9,734.7C344.7,732.5 342.7,730.6 340.6,728.5C338.5,726.5 336.2,724.3 333.5,722.4C330.9,720.5 327.7,718.5 324.7,717.1C321.8,715.6 318.8,714.6 315.9,713.5C312.9,712.5 309.7,711.5 307.1,710.9C304.4,710.3 302.6,709.8 300,710C297.4,710.2 294.4,711 291.2,712C288,713 284,714.6 280.6,715.9C277.2,717.2 273.9,718.6 270.9,719.8C268,720.9 265.5,721.8 263,722.9C260.5,724.1 258.3,725.6 255.9,726.5C253.6,727.4 251.2,728.2 248.9,728.2C246.5,728.2 243.6,727.7 241.8,726.5C240,725.3 238.7,723.2 238.3,721.2C237.8,719.1 238.6,716.5 239.1,714.1C239.7,711.8 241.2,709.4 241.8,707.1C242.4,704.7 242.5,700.8 242.7,700C242.8,699.2 243.1,703 242.7,702.4C242.2,701.8 241.4,698 240,696.2C238.7,694.5 236.8,692.8 234.7,691.8C232.7,690.8 230,690.2 227.7,690C225.3,689.9 222.7,690 220.6,690.9C218.5,691.8 217.1,693.9 215.3,695.3C213.5,696.8 212.1,698.6 210,699.8C208,700.9 205.6,702.1 203,702.4C200.3,702.7 196.8,702.3 194.1,701.5C191.5,700.8 188.8,699.6 187.1,698C185.3,696.4 184.5,694.3 183.5,691.8C182.6,689.3 181.6,685.6 181.4,683C181.3,680.3 181.9,678.3 182.7,675.9C183.5,673.6 184.7,671.1 186.2,668.9C187.7,666.7 189.6,664.7 191.5,662.7C193.4,660.6 195.7,658.7 197.7,656.5C199.6,654.3 201.6,651.8 203,649.4C204.3,647.1 205,644.7 205.6,642.4C206.2,640 206.5,637.7 206.5,635.3C206.5,633 205.9,630.6 205.6,628.3C205.3,625.9 204.6,623.4 204.7,621.2C204.9,619 205.3,616.9 206.5,615C207.7,613.1 209.7,611.3 211.8,609.7C213.8,608.1 216.8,606.9 218.8,605.3C220.9,603.7 222.8,602.1 224.1,600C225.5,598 226.4,595.3 226.8,593C227.1,590.6 226.8,588.2 226.3,585.9C225.7,583.5 224.8,580.9 223.3,578.8C221.7,576.8 219.3,574.8 217.1,573.5C214.9,572.3 212.4,571.6 210,571.4C207.7,571.3 205.2,571.7 203,572.7C200.8,573.6 198.4,575.3 196.8,577.1C195.2,578.8 194.3,581.2 193.2,583.2C192.2,585.3 191.9,587.7 190.6,589.4C189.3,591.2 187.7,592.7 185.3,593.8C183,595 179.4,595.6 176.5,596.5C173.5,597.4 170.6,598.3 167.7,599.1C164.7,600 161.8,600.9 158.8,601.8C155.9,602.7 153.2,604.3 150,604.4C146.8,604.6 142.4,603.7 139.5,602.7C136.5,601.6 134.7,600.2 132.4,598.3C130,596.3 127.4,593.5 125.3,591.2C123.3,588.8 121.8,586.3 120,584.1C118.3,581.9 116.5,579.7 114.7,578C113,576.2 110.8,575.5 109.4,573.5C108.1,571.6 107.5,569.1 106.8,566.5C106.1,563.8 105.6,560.7 105,557.7C104.5,554.6 103.5,550.9 103.6,547.9C103.8,545 104.4,542.1 105.9,540.1Z"/>
<path fill="#ffff00" d="M21.2,783C21.2,783 28.8,787.1 31.8,789.1C34.7,791.2 36.5,793.6 38.8,795.3C41.2,797.1 43.2,798.6 45.9,799.7C48.5,800.9 51.8,801.5 54.7,802.4C57.7,803.3 60.9,803.9 63.5,805C66.2,806.2 68.3,807.8 70.6,809.4C73,811.1 75,813.3 77.7,814.7C80.3,816.2 83.8,816.9 86.5,818.3C89.1,819.6 91.4,821.1 93.6,822.7C95.8,824.3 97.7,826.1 99.7,828C101.8,829.9 103.7,832 105.9,834.2C108.1,836.4 110.9,838.9 113,841.2C115,843.6 116.8,845.6 118.3,848.3C119.7,850.9 120.9,854.2 121.8,857.1C122.7,860 123.1,864.2 123.6,865.9C124,867.7 124.2,865.7 124.4,867.7C124.7,869.8 124.8,874.8 125,878.3C125.2,881.8 125.6,885.7 125.7,888.9C125.8,892.1 126,895.1 125.7,897.7C125.3,900.4 124.7,902.9 123.6,904.8C122.5,906.7 120.9,908.3 119.2,909.2C117.4,910.1 115.5,910.4 113,910.1C110.5,909.8 107.1,908.6 104.1,907.4C101.2,906.3 98,904.6 95.3,903C92.7,901.4 90.5,899.2 88.3,897.7C86.1,896.3 85,895.7 82.1,894.2C79.1,892.7 70.6,888.9 70.6,888.9L0,880L0,780L21.2,783Z"/>
<path fill="#00ff00" d="M211.5,525C211.9,523.4 213.1,521.4 215,519.8C216.9,518.1 220.2,517 222.9,515.3C225.7,513.7 228.8,511.8 231.8,510C234.7,508.3 237.4,506.4 240.6,504.7C243.8,503.1 247.7,501.8 251.2,500.3C254.7,498.9 258.5,497 261.8,495.9C265,494.8 267.7,494.2 270.6,493.8C273.6,493.4 276.2,493.1 279.4,493.3C282.7,493.5 286.8,494.2 290,495C293.3,495.9 295.9,497.2 298.9,498.6C301.8,499.9 304.7,501.1 307.7,503C310.6,504.9 313.9,507.7 316.5,510C319.2,512.4 321.2,514.8 323.6,517.1C325.9,519.5 328.3,522 330.6,524.2C333,526.4 335.3,528.6 337.7,530.3C340,532.1 342.1,533.7 344.7,534.8C347.4,535.8 350.6,536.6 353.6,536.9C356.5,537.2 359.5,537 362.4,536.5C365.3,536 368.3,535.1 371.2,533.9C374.2,532.7 377.1,530.9 380.1,529.5C383,528 385.6,526.1 388.9,525C392.2,524 396.4,523.4 400,523.3C403.6,523.1 407.1,524 410.6,524.2C414.1,524.4 417.7,524.3 421.2,524.5C424.7,524.8 428.2,525.3 431.8,525.6C435.3,525.8 438.8,525.9 442.4,525.9C445.9,526 449.7,526 453,525.9C456.2,525.9 459.4,526 461.8,525.6C464.1,525.1 465,523.9 467.1,523.3C469.1,522.7 471.8,522.2 474.1,522C476.5,521.9 479,521.9 481.2,522.4C483.4,522.9 485.9,523.9 487.4,525C488.8,526.2 489.1,527.8 490,529.5C490.9,531.1 491.9,533 492.7,534.8C493.4,536.5 492.8,535.6 494.4,540.1C496.1,544.5 499.4,556.2 502.5,561.2C505.6,566.2 509,567.5 513.1,570C517.2,572.5 522.3,574.2 527,576C531.7,577.8 535.9,579.5 541.1,580.6C546.3,581.7 554.2,581.8 558.3,582.4C562.3,583 563,583.6 565.7,584.1C568.3,584.7 571,585 574.1,585.5C577.3,586.1 581.2,586.7 584.7,587.7C588.3,588.7 591.8,590.1 595.3,591.5C598.9,593 602.4,594.6 605.9,596.1C609.4,597.7 613,599.4 616.5,600.9C620,602.4 623.6,604 627.1,605.3C630.6,606.6 634.2,607.8 637.7,608.5C641.2,609.2 644.7,609.6 648.3,609.7C651.8,609.8 655.1,609.5 658.9,609.2C662.6,608.9 666.8,608.2 670.9,608C675,607.8 683.6,608 683.6,608L720,610L720,780L640,780L591.8,777.1C591.8,777.1 590.3,778.1 589.1,778.9C588,779.6 586.3,780.6 584.7,781.5C583.1,782.4 581.1,783.5 579.4,784.1C577.8,784.8 576.5,785.7 575,785.6C573.6,785.4 571.8,784.4 570.6,783.3C569.4,782.1 568.8,780.5 568,778.9C567.1,777.2 566.2,775.3 565.3,773.6C564.4,771.8 563.8,769.9 562.7,768.3C561.5,766.6 559.9,765.3 558.3,763.8C556.6,762.4 554.7,760.9 553,759.4C551.2,758 549.4,756.1 547.7,755C545.9,754 544.1,753.5 542.4,753.3C540.6,753.1 538.8,753.2 537.1,753.8C535.3,754.4 533.5,755.4 531.8,756.8C530,758.2 528.2,760.3 526.5,762.1C524.7,763.8 522.9,766.1 521.2,767.4C519.4,768.7 517.7,769.4 515.9,770C514.1,770.6 512.4,770.9 510.6,770.9C508.8,770.9 507.1,770.3 505.3,770C503.5,769.7 502.4,768.6 500,769.1C497.6,769.7 493.7,772.8 490.6,773.6C487.6,774.3 485.1,773.4 481.8,773.6C478.6,773.7 474.5,774 471.2,774.4C468,774.9 465.3,775.2 462.4,776.2C459.5,777.2 456.5,779 453.6,780.6C450.6,782.2 448,784.1 444.7,785.9C441.5,787.7 437.7,789.6 434.2,791.2C430.6,792.8 427.1,794.2 423.6,795.6C420,797.1 416.2,798.6 413,800C409.7,801.5 407.1,803.2 404.1,804.4C401.2,805.7 398.6,807 395.3,807.4C392.1,807.9 388,807.6 384.7,807.1C381.5,806.6 378.6,805.6 375.9,804.4C373.3,803.3 371.1,801.9 368.8,800C366.6,798.1 364.1,795.3 362.7,793C361.2,790.6 360.3,788.3 360,785.9C359.7,783.6 360,781.2 360.9,778.9C361.8,776.5 363.7,774.1 365.3,771.8C366.9,769.4 368.8,767.1 370.6,764.7C372.4,762.4 374.1,760.3 375.9,757.7C377.7,755 379.4,752.1 381.2,748.8C383,745.6 385.2,741.8 386.5,738.3C387.8,734.7 388.6,731.2 389.1,727.7C389.7,724.1 390.5,720.6 390,717.1C389.6,713.5 388.3,709.7 386.5,706.5C384.7,703.2 382.1,700 379.4,697.7C376.8,695.3 373.8,694 370.6,692.4C367.4,690.7 363.5,689.3 360,687.9C356.5,686.6 352.7,685.7 349.4,684.4C346.2,683.1 343.5,680.3 340.6,680C337.7,679.7 334.8,682.5 331.8,682.6C328.9,682.8 325.9,681.2 323,680.9C320.1,680.5 317.1,680.3 314.2,680.3C311.2,680.4 308.3,680.9 305.3,681.2C302.4,681.5 299.5,682.1 296.5,682.1C293.6,682.1 290.6,681.8 287.7,681.2C284.7,680.6 281.5,679.7 278.9,678.6C276.2,677.4 273.9,675.8 271.8,674.2C269.7,672.5 268.1,670.9 266.5,668.9C264.9,666.8 263.3,664.2 262.1,661.8C260.9,659.4 259.9,657.4 259.4,654.7C259,652.1 259.3,648.9 259.4,645.9C259.6,643 260.2,640 260.3,637.1C260.5,634.1 260.6,630.9 260.3,628.3C260,625.6 259.3,623.6 258.6,621.2C257.8,618.8 256.6,616.8 255.9,614.1C255.2,611.5 254.6,608.3 254.5,605.3C254.4,602.4 254.6,599.1 255,596.5C255.4,593.8 256.1,591.8 256.8,589.4C257.5,587.1 259,584.6 259.4,582.4C259.9,580.2 260,578.1 259.4,576.2C258.9,574.3 257.4,572.7 255.9,570.9C254.4,569.1 252.4,567.5 250.6,565.6C248.9,563.7 247.1,561.6 245.3,559.4C243.6,557.2 241.8,554.4 240,552.4C238.3,550.3 236.8,548.7 234.7,547.1C232.7,545.4 230,543.8 227.7,542.6C225.3,541.5 222,540.4 220.6,540C219.2,539.6 220.2,540.9 219.4,540.1C218.6,539.2 217.1,536.5 215.9,534.8C214.7,533 213.1,531.1 212.4,529.5C211.6,527.8 211,526.7 211.5,525Z"/>
<path fill="#00ff00" d="M133,544C133,542.1 134.2,539.8 135.5,538.5C136.8,537.2 139.2,536.1 141,536C142.8,535.9 145.2,536.7 146.5,538C147.8,539.3 148.9,542.1 149,544C149.1,545.9 148.3,548.2 147,549.5C145.7,550.8 142.9,551.9 141,552C139.1,552.1 136.8,551.3 135.5,550C134.2,548.7 133,545.9 133,544Z"/>
<path fill="#00ffff" d="M322.9,612.4C322.9,610 323.7,607.7 324.7,605.3C325.7,603 327.4,600.3 329.1,598.3C330.9,596.2 333.1,594.4 335.3,593C337.5,591.5 339.7,590.5 342.4,589.4C345,588.3 348.2,587.4 351.2,586.2C354.1,585.1 357.4,583.7 360,582.4C362.7,581 364.7,579.6 367.1,578C369.4,576.3 371.8,574.4 374.1,572.7C376.5,570.9 378.8,569 381.2,567.4C383.6,565.7 385.6,564.4 388.3,562.9C390.9,561.5 394.1,559.8 397.1,558.5C400,557.3 403,556 405.9,555.5C408.9,555.1 411.8,555.4 414.7,555.9C417.7,556.4 420.9,557.8 423.6,558.5C426.2,559.3 427.7,560.2 430.6,560.3C433.6,560.4 437.7,559.9 441.2,559.4C444.7,559 448.9,558.2 451.8,557.7C454.8,557.1 456.5,556.4 458.9,556.2C461.2,556.1 463,556.2 465.9,556.8C468.9,557.3 473,558.1 476.5,559.4C480.1,560.7 484.2,562.4 487.1,564.7C490.1,567.1 492,570.7 494.2,573.5C496.3,576.3 497.5,578.2 500,581.5C502.5,584.7 506,589.9 509.4,593C512.7,596 516.4,599.5 519.9,600C523.5,600.5 527,597.1 530.5,595.8C534.1,594.5 537.1,592.8 541.1,592.1C545.2,591.3 551.3,591.2 554.7,591.2C558.2,591.2 559.7,591.5 561.8,592.1C563.8,592.7 565,593.5 567.1,594.7C569.1,595.9 571.5,597.7 574.1,599.1C576.8,600.6 579.7,602.1 583,603.5C586.2,605 590,606.3 593.6,608C597.1,609.6 600.9,611.5 604.1,613.3C607.4,615 610,616.9 613,618.6C615.9,620.2 618.9,621.6 621.8,623C624.7,624.3 627.7,625.5 630.6,626.8C633.6,628.2 636.8,629.6 639.5,630.9C642.1,632.2 644.2,633.8 646.5,634.4C648.9,635.1 650.9,635.3 653.6,635C656.2,634.7 659.5,633.4 662.4,632.7C665.3,632 667.3,631.2 670.9,630.9C674.4,630.6 683.6,630.9 683.6,630.9L720,632L720,760L640,760L605.9,759.4C605.9,759.4 604.1,758.8 602.4,758.6C600.6,758.3 597.7,758 595.3,757.7C593,757.4 590.6,757.2 588.3,756.8C585.9,756.3 583.6,755.6 581.2,755C578.8,754.4 576.5,754 574.1,753.3C571.8,752.5 569.4,751.6 567.1,750.6C564.7,749.6 562.1,748.4 560,747.1C558,745.8 556.5,744 554.7,742.7C553,741.3 551.5,739.9 549.4,739.1C547.4,738.4 544.7,738 542.4,738.3C540,738.5 537.7,739.6 535.3,740.9C533,742.2 530.6,744.3 528.2,746.2C525.9,748.1 523.5,750.5 521.2,752.4C518.8,754.3 516.5,756.2 514.1,757.7C511.8,759.1 509.4,760.3 507.1,761.2C504.7,762.1 502.7,762.7 500,763C497.3,763.3 494,763.4 490.6,763C487.3,762.5 483.3,760.9 480.1,760.3C476.8,759.7 474.2,759.3 471.2,759.4C468.3,759.6 465.3,760.3 462.4,761.2C459.5,762.1 456.2,763.3 453.6,764.7C450.9,766.2 448.9,768 446.5,770C444.2,772.1 442.1,775 439.5,777.1C436.8,779.1 433.6,780.6 430.6,782.4C427.7,784.1 424.7,785.9 421.8,787.7C418.9,789.4 415.9,791.2 413,793C410,794.7 407.1,797.1 404.1,798.3C401.2,799.4 398.3,800 395.3,800C392.4,800 389,799.4 386.5,798.3C384,797.1 381.8,795 380.3,793C378.8,790.9 378,788.6 377.7,785.9C377.4,783.3 377.8,780 378.6,777.1C379.3,774.1 380.5,771.2 382.1,768.3C383.7,765.3 386.1,762.1 388.3,759.4C390.5,756.8 393.3,754.6 395.3,752.4C397.4,750.2 398.9,748.4 400.6,746.2C402.4,744 403.9,741.3 405.9,739.1C408,736.9 410.6,734.9 413,733C415.3,731 418.3,729.7 420,727.7C421.8,725.6 422.5,723 423.6,720.6C424.6,718.2 425,715.6 426.2,713.5C427.4,711.5 428.9,709.7 430.6,708.2C432.4,706.8 436.8,705.1 436.8,705.1C436.8,705.1 431.7,705.9 428.9,705.6C426.1,705.2 422.7,704.1 420,702.9C417.4,701.8 415,700.3 413,698.5C410.9,696.8 409.1,694.6 407.7,692.4C406.2,690.2 405.5,687.4 404.1,685.3C402.8,683.2 400,680.7 399.7,680C399.4,679.3 403.1,681.8 402.4,681.2C401.6,680.7 397.7,678.4 395.3,676.8C393,675.2 390.3,673.1 388.3,671.5C386.2,669.9 384.7,668.7 383,667.1C381.2,665.5 380,663.4 377.7,661.8C375.3,660.2 371.5,658.4 368.8,657.4C366.2,656.4 364.1,656.4 361.8,655.6C359.4,654.9 357.1,654.2 354.7,653C352.4,651.8 349.9,650.2 347.7,648.6C345.5,646.9 343.1,645.2 341.5,643.3C339.9,641.4 339.1,639.3 338,637.1C336.8,634.9 335.9,632.1 334.4,630C333,628 330.7,626.5 329.1,624.7C327.5,623 325.7,621.5 324.7,619.4C323.7,617.4 322.9,614.7 322.9,612.4Z"/>
<path fill="#00ffff" d="M263.5,524.2C264.3,522.1 268.3,519.3 270.6,517.1C273,514.9 275.3,512.4 277.7,510.9C280,509.5 282.4,508.4 284.7,508.3C287.1,508.1 289.4,509 291.8,510C294.1,511.1 296.5,512.8 298.9,514.5C301.2,516.1 304.4,517.8 305.9,519.8C307.4,521.7 307.7,523.7 308,525.9C308.3,528.1 308,530.6 307.7,533C307.3,535.3 307.8,538.4 305.9,540.1C304.1,541.8 299.6,542.5 296.5,543.2C293.5,543.9 290.3,544.4 287.7,544.4C285,544.5 282.7,544.3 280.6,543.5C278.6,542.8 277.3,541.5 275.3,540C273.4,538.5 270.4,536.5 268.8,534.8C267.3,533 267.1,531.2 266.2,529.5C265.3,527.7 262.8,526.2 263.5,524.2Z"/>
<path fill="#00ffff" d="M278,647.7C278.2,646.2 278.7,643.9 279.7,642.4C280.8,640.9 282.2,639.8 284.2,638.9C286.1,637.9 288.9,637.8 291.2,636.7C293.6,635.7 296.5,633.2 298.3,632.7C300,632.1 300.7,632.5 301.8,633.6C302.9,634.6 304.5,636.8 305,638.9C305.5,640.9 305.5,643.9 305,645.9C304.5,648 303.5,649.7 301.8,651.2C300.1,652.7 297.1,653.8 294.7,654.7C292.4,655.7 289.9,656.9 287.7,656.9C285.5,656.9 283,655.7 281.5,654.7C280,653.8 279.1,652.4 278.5,651.2C277.9,650 277.8,649.1 278,647.7Z"/>
<path fill="#00ccff" d="M370.6,627.4C371.1,625.3 372.1,623 374.1,621.2C376.2,619.4 379.7,617.9 383,616.8C386.2,615.7 390,614.8 393.6,614.5C397.1,614.2 401.2,614.5 404.1,615C407.1,615.6 409.1,616.3 411.2,617.7C413.3,619 414.7,621.1 416.5,623C418.3,624.9 419.7,627.2 421.8,629.1C423.9,631.1 425.9,633.1 428.9,634.4C431.8,635.8 436.5,636.1 439.5,637.1C442.4,638.1 444.5,638.9 446.5,640.6C448.6,642.4 449.7,645.6 451.8,647.7C453.9,649.7 456.2,651.4 458.9,653C461.5,654.6 464.8,655.9 467.7,657.4C470.6,658.9 473.9,660.2 476.5,661.8C479.2,663.4 482.4,665.9 483.6,667.1C484.8,668.3 483.1,667.7 483.8,668.8C484.6,670 486.6,672.5 488.3,674.1C489.9,675.8 491.5,677.7 493.6,678.6C495.6,679.4 498.6,679.3 500.6,679.4C502.7,679.5 503.9,679.2 505.9,679.1C508,678.9 510.9,679.2 513,678.6C515,677.9 516.2,676.6 518.3,675C520.3,673.4 523,671.1 525.3,668.8C527.7,666.6 530.3,664.1 532.4,661.8C534.5,659.4 536.2,657.4 537.7,654.7C539.2,652.1 540.5,649.1 541.2,645.9C542,642.7 542.1,638.8 542.1,635.3C542.1,631.8 541.2,627.9 541.2,624.7C541.2,621.5 541.5,618.5 542.1,615.9C542.7,613.2 543.4,610.7 544.7,608.8C546.1,606.9 548,605.4 550,604.4C552.1,603.4 556.6,602.9 557.1,602.6C557.6,602.4 552.5,602.5 553,602.7C553.4,602.8 557.9,603 560,603.5C562.1,604.1 563.9,605.2 565.7,606.2C567.4,607.2 568.6,608.4 570.6,609.7C572.6,611.1 575.3,612.4 577.7,614.1C580,615.9 582.4,618.3 584.7,620.3C587.1,622.4 589.4,624.6 591.8,626.5C594.1,628.4 596.5,630.5 598.9,631.8C601.2,633.1 603.3,633.6 605.9,634.4C608.6,635.3 611.8,636 614.7,637.1C617.7,638.2 620.6,639.5 623.6,641C626.5,642.4 629.7,644.2 632.4,645.9C635,647.6 637.1,650 639.5,651.2C641.8,652.4 644.2,652.9 646.5,653C648.9,653 650.9,652.3 653.6,651.6C656.2,650.8 659.5,649.5 662.4,648.6C665.3,647.6 667.3,646.4 670.9,645.9C674.4,645.5 683.6,645.9 683.6,645.9L720,650L720,742L640,742L611.2,742.7C611.2,742.7 608,743.2 605.9,743.2C603.9,743.2 601.2,743 598.9,742.7C596.5,742.3 594.1,741.6 591.8,740.9C589.4,740.2 587.1,739.1 584.7,738.3C582.4,737.4 580,736.5 577.7,735.6C575.3,734.7 573,733.8 570.6,733C568.3,732.1 565.9,731.3 563.5,730.3C561.2,729.3 558.8,727.8 556.5,726.8C554.1,725.7 551.8,724.7 549.4,724.1C547.1,723.5 544.7,723.2 542.4,723.2C540,723.2 537.7,723.4 535.3,724.1C533,724.9 530.6,726.2 528.2,727.7C525.9,729.1 523.5,730.9 521.2,733C518.8,735 516.5,738 514.1,740C511.8,742.1 509.4,744 507.1,745.3C504.7,746.6 502.3,747.6 500,748C497.7,748.3 495.8,748.2 493.6,747.4C491.3,746.6 488.6,744.6 486.5,743C484.4,741.4 482.7,739.7 481.2,737.7C479.7,735.6 478.6,733 477.7,730.6C476.8,728.3 475.9,725.9 475.9,723.6C475.9,721.2 476.5,718.6 477.7,716.5C478.8,714.4 480.9,713 483,711.2C485,709.4 488.1,708 490,705.9C491.9,703.9 493.4,701.5 494.4,698.9C495.5,696.2 496.2,692.7 496.2,690C496.2,687.4 495.5,685 494.4,683C493.4,680.9 491.6,679.1 490,677.7C488.4,676.2 486.8,674.8 484.7,674.1C482.7,673.5 480,673.3 477.7,673.8C475.3,674.2 472.4,675.7 470.6,676.8C468.8,677.9 468.8,679.6 467.1,680.3C465.3,681.1 462.7,681.3 460,681.2C457.4,681.1 453.8,680.2 451.2,679.4C448.5,678.7 446.8,677.7 444.1,676.8C441.5,675.9 438.2,674.7 435.3,674.1C432.4,673.6 429.4,673.7 426.5,673.3C423.5,672.8 420.8,673.7 417.7,671.5C414.5,669.3 410.8,663.1 407.7,660C404.5,656.9 401.8,655.3 398.9,653C395.9,650.6 392.7,648 390,645.9C387.4,643.9 385.3,641.9 383,640.6C380.6,639.3 377.8,639.1 375.9,638C374,636.8 372.4,635.3 371.5,633.6C370.6,631.8 370.2,629.4 370.6,627.4Z"/>
<path fill="#00ccff" d="M440.3,605.3C440.5,602.7 440.8,599.1 442.1,596.5C443.4,593.8 445.8,591.3 448.3,589.4C450.8,587.6 453.9,586.3 457.1,585.5C460.3,584.8 464.3,584.5 467.7,585C471.1,585.5 474.6,586.6 477.4,588.5C480.2,590.5 482.9,593.7 484.5,596.5C486,599.3 486.6,602.4 486.8,605.3C486.9,608.3 486.6,611.2 485.3,614.1C484.1,617.1 481.5,620.5 479.2,623C476.8,625.5 474,627.8 471.2,629.1C468.4,630.5 465.3,631.1 462.4,630.9C459.5,630.8 456.4,630 453.6,628.3C450.8,626.5 447.7,623 445.6,620.3C443.6,617.7 442.1,614.9 441.2,612.4C440.3,609.9 440.2,608 440.3,605.3Z"/>
<path fill="#00ccff" d="M391.8,776.2C392.1,774.1 393.9,771.1 395.3,768.3C396.8,765.5 398.9,762.1 400.6,759.4C402.4,756.8 403.9,754.3 405.9,752.4C408,750.5 410.3,748.5 413,748C415.6,747.4 418.9,748.1 421.8,748.8C424.7,749.6 428.4,750.9 430.6,752.4C432.8,753.8 434.7,755.6 435,757.7C435.3,759.7 433.6,762.7 432.4,764.7C431.2,766.8 429,768 428,770C426.9,772.1 427.2,774.9 426.2,777.1C425.2,779.3 423.7,781.6 421.8,783.3C419.9,784.9 417.4,786.2 414.7,786.8C412.1,787.4 408.6,787.2 405.9,786.8C403.3,786.4 400.9,785.2 398.9,784.1C396.8,783.1 394.7,781.9 393.6,780.6C392.4,779.3 391.5,778.3 391.8,776.2Z"/>
<path fill="#0000ff" d="M565.7,639.7C567.1,638.4 568.6,638.4 570.6,638C572.6,637.5 575.3,636.9 577.7,637.1C580,637.2 582.4,638 584.7,638.9C587.1,639.7 589.4,641.2 591.8,642.4C594.1,643.6 596.5,644.9 598.9,645.9C601.2,646.9 603.3,647.7 605.9,648.6C608.6,649.4 611.8,650.1 614.7,651.2C617.7,652.3 620.6,653.8 623.6,655.1C626.5,656.4 629.4,658.2 632.4,659.2C635.3,660.1 638.3,660.6 641.2,660.9C644.2,661.2 647.1,661.1 650,660.9C653,660.7 655.4,659.9 658.9,659.7C662.3,659.5 666.8,659.7 670.9,659.7C675,659.7 683.6,659.7 683.6,659.7L720,700L720,712L658.9,714.4C658.9,714.4 653.3,714.9 651.8,714.4C650.3,714 651.2,712.5 650,711.8C648.9,711 646.8,710.2 644.7,710C642.7,709.9 640.3,710.2 637.7,710.9C635,711.6 631.8,713.1 628.9,714.4C625.9,715.7 623.3,717.5 620,718.8C616.8,720.2 613,721.6 609.4,722.4C605.9,723.1 602.4,723.2 598.9,723.2C595.3,723.2 591.5,723.1 588.3,722.4C585,721.6 582.1,720.2 579.4,718.8C576.8,717.5 574.7,715.9 572.4,714.4C570.1,713 567.7,711.5 565.7,710C563.6,708.5 561.8,707.4 560,705.6C558.2,703.8 556.2,701.6 554.7,699.4C553.3,697.2 552.1,694.7 551.2,692.4C550.3,690 549.9,686.6 549.4,685.3C549,684 548.6,686 548.5,684.7C548.5,683.5 548.6,680 549.1,677.7C549.5,675.3 550.3,673 551.2,670.6C552.1,668.3 553.5,666.2 554.7,663.6C555.9,660.9 557.1,657.7 558.3,654.7C559.4,651.8 560.5,648.4 561.8,645.9C563,643.4 564.2,641.1 565.7,639.7Z"/>
<path fill="#0000ff" d="M407.3,774.4C407.4,773.6 407.7,772.7 408,772.1C408.4,771.6 409,771.1 409.4,771.3C409.9,771.4 410.4,772.3 410.7,773.2C410.9,774.1 411.1,775.9 410.9,776.7C410.7,777.6 409.9,778.4 409.4,778.5C408.9,778.6 408.2,778.1 407.9,777.4C407.5,776.8 407.3,775.3 407.3,774.4Z"/>
<path fill="#cc33ff" d="M570.6,674.2C570.6,671.5 571.3,669.3 572.4,667.1C573.4,664.9 575,662.7 576.8,660.9C578.6,659.2 580.8,657.5 583,656.5C585.2,655.5 587.7,655.2 590,655.1C592.4,655 594.9,655.3 597.1,656.2C599.3,657 601.5,658.4 603.3,660C605,661.7 606.7,663.9 607.7,666.2C608.6,668.6 609,671.4 609.1,674.2C609.1,677 608.9,680.3 608,683C607.2,685.6 605.8,687.8 604.1,690C602.5,692.3 600.2,694.9 598,696.2C595.8,697.5 593.4,698.1 590.9,698C588.4,697.8 585.3,696.7 583,695.3C580.6,694 578.6,692.1 576.8,690C575,688 573.4,685.6 572.4,683C571.3,680.3 570.6,676.8 570.6,674.2Z"/>
<path fill="#cc33ff" d="M676.5,671.5C676.5,671.5 672.6,672 670.9,671.5C669.1,671.1 667.6,669.2 665.9,668.9C664.2,668.5 662.3,668.5 660.6,669.2C659,669.9 657.4,671.6 656.2,673.3C655,675 654.1,677.5 653.6,679.5C653.1,681.4 652.9,683 653.2,684.7C653.5,686.5 654.3,688.4 655.3,690C656.4,691.7 658.1,693.4 659.8,694.5C661.4,695.5 663.2,696.2 665,696.2C666.9,696.2 669,694.8 670.9,694.5C672.8,694.2 676.5,694.5 676.5,694.5L676.5,671.5Z"/>
<path fill="#ff9900" d="M263.2,121.1C263.4,120.7 264,120.6 264.3,120.7C264.5,120.9 264.8,121.7 264.8,122.2C264.8,122.6 264.5,123.4 264.3,123.6C264,123.7 263.4,123.6 263.2,123.2C263,122.8 263,121.5 263.2,121.1Z"/>
</g>
<g class="cl">
<path d="M120.4,100.3L119.7,157.1L120.4,158.9L119.2,180L118.6,192"/>
<path d="M264.4,105.9L263.9,111.2L265,114.7L264.4,120L267.1,124.4L272.4,128L279.4,128.5L286.5,127.4L291.8,125.3L294.4,122.7L294.8,123.6L294.8,141.2L293.6,150L293,164.2L260,163.8L259.7,180.1L259.7,180L258.8,197.7"/>
<path d="M381.5,170.3L381.8,180.1L381.8,180L380.9,236.5L380.1,285.9L380.4,341L379.2,360.1L379.7,360L379.2,421.8L378.3,429.2"/>
<path d="M14.1,187.1L118.3,192L200,196.8L224.7,197.7L258.8,197.7L276.8,198.2L275.6,215.3L275.6,234.4L314.7,235.1L380.9,236.5"/>
<path d="M13.8,262.1L100.6,266.8L200,270.9L222.1,271.4"/>
<path d="M100.6,266.8L99.7,296.5L101.5,297.4L101,309.7L99.7,331.8L117.4,333.2L116.9,350.3L186.2,352.6L188,335.3L200,336.2L204.4,335.3L205.3,319.5L205.3,313.3"/>
<path d="M101,309.7L200,312.4L205.3,313.3"/>
<path d="M205.3,319.5L222.1,319.5"/>
<path d="M224.7,197.7L222.9,231.2L222.1,271.8L221.2,301.8L222.6,319.5L221.5,360.1L222.1,372.4L223.8,372.7L222.9,406.8L222.1,448.3L221.5,477.4"/>
<path d="M221.2,302.2L271.5,303.6L267.1,310.6L263.9,319.5L264.4,326.5L268,331.5L275,333.6L275,360.1L273.8,374.1L275,375L274.1,426.7L273.8,444.7L275.6,445.6L274.5,480L273.8,483.6L273.3,515.3L274.5,516.2L273.3,540.1L273.2,549.7L272.7,566.8L272.7,593L271.8,637.1L271.8,663.6L271.4,690L270.9,720.1L270.9,721.2L271.4,735.3L270.9,759.7L270,788.3L270.4,829.7"/>
<path d="M380.4,341L400,341L467.2,341.5L467.4,332.6L560.6,333.5"/>
<path d="M560.6,186.1L560.3,265.9L560.6,318.9L561,340.1L561.5,360L561.5,367.9L565,368.5L564.2,413L563.3,439.4L563.8,492.4L565,493.3L565,508.6L564.5,540.1L564.4,561.2L563.9,584.1L565,593L565.7,631.8L565.7,684.7L565.7,720.1L565.7,718.8L552.6,719.2L552.6,770.4L552.6,805.3L569.2,805.7L570.3,814.2L570.6,834.5L571,860.1L570.6,858.5L571,891.5"/>
<path d="M735.9,270L735.6,321.2L736.3,360.1L737.7,393.5L738.6,430.6L739.5,483.6L739.8,524.2"/>
<path d="M838.6,270.8L840.9,325.9L842.1,361.2L843.2,400.1L844.3,415.5"/>
<path d="M45.5,400.6L105.9,403.2L153.2,405.5L200,406.8L222.9,407.3"/>
<path d="M153.2,405.5L151.8,448.3L150.6,475.1"/>
<path d="M46.2,470.9L88.3,472.6L132.7,475.1L150.6,475.1L200,476.9L221.5,477.4L274.1,479.2"/>
<path d="M132.7,475.1L132,508.3L134.5,509.7L133.8,540.1L132.7,562.9L131.5,579.2"/>
<path d="M274.1,426.7L343.9,428.8L378.3,429.2"/>
<path d="M343.9,428.8L344.4,444.7L344.7,465.9L343.9,483.6L343.9,540.1L342.9,550.9"/>
<path d="M379.2,421.8L380.9,425L384.5,426.2L388.9,428L394.2,426.7L400,424.4L407.1,420.9L415.9,416.8L422.9,416.5L425.6,420.9L428.2,426.2L431.4,430.3L430,435.9L431.8,441.2L437.1,444.7L442.4,449.1L447.7,452.1L451.2,447.9L456.5,449.1L461.8,451.4L466.2,451.8L466.2,458.9L463.5,462.4L461.8,465.9L463.5,469.4L466.7,472.1L466.7,504.7L465.7,507.4L465.7,540.1L465,553.2L464.5,596.5L460.6,597.4L459.8,610.6L459.8,665.3L459.8,681.2L458.9,697.7L458.5,718L465,719.2L465,750.6L465.6,803.6"/>
<path d="M465.7,507.4L498.9,507.9L541.2,509.2L565,508.6"/>
<path d="M46.2,576.2L74.1,577.1L116.5,579.2L131.5,579.2"/>
<path d="M132.7,562.6L169.5,563.8L194.1,564.7L233,566.5L272.7,566.8"/>
<path d="M116.5,579.2L115.6,610.6L114.7,649.4L114.7,684.7L113.9,700.6L113.9,717.7L114.7,735.3L113.9,755.6L113,791.8L112.6,825.3"/>
<path d="M70.6,700.3L113,702"/>
<path d="M114.7,684.7L144.7,685.6L184.5,687.4L229.4,689.2L271.4,690.4"/>
<path d="M184.5,687.4L183.6,720.1L182.7,721.2L183.9,722.1L183.5,757.4L182.7,788.3L182.7,828"/>
<path d="M273.2,549.7L298.3,550.2L325.6,551.5L343.3,551.5L342.9,550.9L342.9,540"/>
<path d="M325.6,551.5L324.8,584.1L324.4,610.6L324.8,631.8L325.6,633.6L328.2,635.3L331.4,636.7L332.1,641.5L337.1,642.4L339.7,641L342.4,644.1L345.9,646.8L351.2,650.3L356.5,652.6L361.8,650.9L368,648L372.4,646.8L375.9,648.6L378.6,652.1L383,654.7L386.5,657.4L384.7,660.9L382.1,663.6L378.6,665.7L377.7,670.6L380.3,675.9L380.8,682.1L459.8,683.3"/>
<path d="M271.8,637.1L300,638L330.1,638.5L331.4,638.5"/>
<path d="M341.5,644.1L341.5,720.1L341,715.3L340.6,758.6"/>
<path d="M386.5,552L465,553.2"/>
<path d="M386.5,552L386.1,573.5L385.6,587.3L387.4,587.7L387.4,656.5"/>
<path d="M459.8,665.7L500,665L493.6,666.2L498.9,665.3L512.6,666.7L512.6,684.7L512.1,719.2L499.7,719.7L499.2,750L500.3,769.5L500.6,780.1L500.9,769.1L500.9,834.5L500.9,860.7L500,868.6"/>
<path d="M512.6,684.7L528.9,683.8L548.3,684.7L565.6,684.4"/>
<path d="M564.4,561.2L609.4,560.8L669.8,561.2L670.3,581.5"/>
<path d="M565.7,631.4L670.9,631.4"/>
<path d="M300,758L340.6,758.6L390,759.4"/>
<path d="M113.9,755.6L150,756.5L183.6,757.4L183.5,757.4L245.3,760L270.9,759.7L271.8,757.4L340.6,758.6L340.6,758.6"/>
<path d="M341.5,700L341.5,726.5L340.6,758.6"/>
<path d="M383,751L423.6,750.6L465,751.5"/>
<path d="M383,751L384.2,752.2L385.8,753.3L386.5,755L388,756.5L390.2,757.2L391.8,758.6L392.6,760L393.5,761.5L393.7,763.2L394.4,764.7L395.9,765.8L397,767.1L397.8,768.7L398.9,770L401.5,771.8L401,774L400.6,776.2L401.8,777.5L402.3,779.2L403.3,780.6L403.3,782.4L402.4,784.1L402.7,785.9L403.6,787.6L402.9,789.6L403.9,791.2L404.1,793L405.3,794.7L406.9,796.3L407.7,798.3L408,800.1L409.2,801.7L409.4,803.6L409.9,805.3L410.6,807L410.3,808.9L410.7,810.6L410.2,812.5L410.4,814.2L411.2,815.9L412.1,817.9L414.1,819.1L414.7,821.2L415.5,823.3L416.7,825L418.3,826.5L419.9,828L422,828.5L423.6,830L425.2,830.8L426.3,832.2L427.2,833.7L428.9,834.5L430.1,835.6L431.3,836.9L433,837.5L434.2,838.9L435.9,839.2L437.6,839.7L439.5,839.8L440.5,841.4L441.8,842.7L443.7,843.5L444.7,845L446.2,843L446.2,844.9L447.1,846.5L449,847.4L450.4,849.2L452.4,850.1L454.1,851.3L456.1,852.1L457.7,853.6L459.4,854.6L461.2,855.4L463,856.2L464.6,857.1L466.6,856.3L468.3,856.8L470,857.5L471.9,857.6L473.7,857L475.2,855.7L477.1,855.7L478.9,855.7L480.6,856.3L482.5,856.1L484.2,856.8L486,856.9L487.8,856.9L489.4,857.9L491.2,858L493,860.7L493.9,862.3L493.9,864.2L494.8,865.9L496.5,866.8L497.9,868.2L499.7,868.6L501.4,870.2L503.6,871.2L505.2,872.4L507.2,872.9L508.9,873.9L510.1,875.2L511.3,876.3L512.9,877.2L514.2,878.3L515.8,879L516.7,880.6L518.3,881.5L519.5,882.7L521.2,884L523,885L524.8,886.2L525.8,888.1L528,888.9L529.2,890.7L529.8,892.6L530.7,894.3L531.8,896L532.3,897.7L533.5,899.3L533.6,901.3L533.6,910.1L543.3,910.1L544.2,920.7L545.6,934.8L546.8,940.1"/>
<path d="M423.6,830L423.1,831.8L423.1,833.7L421.6,835.2L421.7,837.2L420.9,838.9L420.4,840.7L419.9,842.5L418.9,844.1L418.3,845.9L417.2,847.5L415.9,848.9L414.4,850L413,851.2L411.2,851.8L409.6,852.9L407.7,853.2L405.9,853.9L404.1,854L402.4,853.3L400.6,854.4L398.9,853.9L396.7,854.7L395.3,856.5L396.9,856.1L398.5,855.8L399.9,855.1L401.6,855.4L403.1,854.5L404.7,854.5L402.9,854.1L401,853.8L399.4,852.7L397.6,853.5L395.5,853.4L393.8,854.5L393.2,859.2L393.2,920.7"/>
<path d="M409.4,803.6L465.6,804.4L500,804.4"/>
<path d="M552.6,770.4L591.8,770.9"/>
<path d="M500.3,769.5L552.7,770.3"/>
<path d="M500.9,834.5L570.6,834.5"/>
<path d="M570.6,858.5L607.7,859.2"/>
<path d="M29.1,786.5L70.6,788.3L113,790.9"/>
<path d="M112.6,825.3L129.7,826.2L155.3,826.7L182.7,828L182.7,828L211.8,828.9L252.4,830.6L270.4,830.3L322.6,831.5L322.1,849.2L322.6,880.1L322.7,869.5L321.8,896L320.9,936.6"/>
<path d="M322.1,849.2L350,849.7L375.6,850.4L375.6,859.2L393.2,859.2"/>
<path d="M129.7,826.2L129.2,850L130.3,869.5L130.3,869.5L130.6,872.1"/>
<path d="M81.2,853.6L83,853.8L84.8,853.7L86.4,855L88.3,855L90.1,855.1L91.8,855.4L93.6,855.6L95.3,856.2L97.1,856.5L98.9,856.3L100.7,856.4L102.4,857.1L103.6,858.2L104.7,859.5L105.9,860.6L107.9,861.6L109.4,863.3L111.2,863.9L113,864.3L114.7,865L115.7,866.6L117.7,866.9L118.3,868.8L120,869.5L121.8,869.7L123.6,870.1L125.3,870.3L127.2,870.2L128.8,871.2L130.6,871.2L132,872.2L132.9,873.6L134.2,874.6L135,876.1L135.9,877.4L137.4,878.8L139.2,879.7L141.2,880.1L142.2,882L144.1,883.3L144.7,885.4L145.4,887.1L146.5,888.5L147.7,889.8L149.3,890.8L150,892.4L151.5,893.6L152.2,895.2L152.9,896.9L154.2,898.1L155.3,899.5L156.2,900.9L157.7,901.7L158.5,903.2L159.4,904.6L160.6,905.7L161.4,907.2L162.5,908.4L164.1,909.2L164.5,910.9L165.9,911.8L167.4,913.4L168,915.6L169.5,917.1L170.6,918.4L172.1,919.2L173,920.7L174.7,921.2L176.5,921.6L178.3,922.1L179.1,923.7L181,924.3L181.8,926L183.1,928L183.6,930.4L185.3,931L187.1,930.8L188.9,930.4L190.4,931.6L191.5,933.1L192.4,934.8L193.5,936.3L195.1,937.5L195.9,939.2L197.4,940.2L199,941.2L200,942.7L201.2,944L203,944.6L203.6,946.5L205.3,947.1L206.3,948.8L207.7,950L209,951.4L210.6,952.4L212.5,953.6L214.1,955.1L212.2,956.2L210.6,957.7L212.2,958.9L214.1,959.5L215.9,960.4L217.4,961.2L218.1,962.8L219.4,963.9L221.3,964.6L222.9,965.8L224.7,966.6L226,967.7L226.7,969.3L228.2,970.1L229.9,971L231,972.7L232.7,973.6L234.1,974.3L235.7,974.6L237.4,974.5L238.8,975.4L240.1,976.7L240.1,978.6L241.5,979.8L243.8,980.4L245.9,981.6L247.6,980.7L249.4,980.7L250.8,981.7L251.7,983.1L253,984.2L254.3,985.6L256,986.4L257.4,987.8L258.3,989.5L259.6,990.6L261.1,991.4L262.1,992.9L263.5,993.9L264.6,995.3L266.5,995.8L267.5,997.2L268.8,998.3L270.7,999.1L272.2,1000.4L274.1,1001L275.6,1002.6L277.7,1003.3L279.4,1004.5L281.3,1004.8L282.8,1006.1L284.7,1006.3L286.7,1006.7L288.4,1007.9L290,1008.9L291.8,1009.4L293.7,1009.7L295.3,1010.7L297,1011.5L298.8,1011.9L300.6,1012.5L302,1013.7L303.1,1015.3L304.1,1016.9L305.8,1017.7L307.7,1017.9L309.4,1018.6L311.1,1020.1L311.8,1022.1L313,1023.9"/>
<path d="M252.4,830.6L251.5,858.9L252.1,860.7L252.1,882.7L251.2,913.6L250.8,934.8"/>
<path d="M141.2,879.7L162.4,880.1L200,881L226.5,881.5L252.1,882.7"/>
<path d="M77.7,946.8L105.9,948L130.6,949.3L163.3,949.8L164.2,941.9L165,933L180.9,932.7L181.8,926"/>
<path d="M75.6,982.1L127.1,984.6L197.7,986.9L198.6,1003.6L200,1004L215.9,1005L232.7,1004.5L232.7,973.6"/>
<path d="M127.1,984.6L126.7,1001.9L127.4,1023.9"/>
<path d="M216.8,957.7L216.8,934.4L250.8,934.8L272.4,935.7L320.9,936.6L358,937.4"/>
<path d="M393.8,859.2L393.8,919.8"/>
<path d="M338.6,1023.9L337.7,998.3L338.6,972.7L357.1,972.7L357.5,938.3L357.5,920.3L393.8,919.8L393.2,920.7L427.7,921.6L463,921"/>
<path d="M357.1,972.7L357.5,990.4L391.5,990.9L391.5,973.6L392.7,974L427.7,974L445,974.5L445.3,983.3L462.6,983.9L462.6,989.5"/>
<path d="M304.1,1016.9L304.1,1023.9"/>
<path d="M499.7,868.6L498.1,869.6L496.7,870.9L494.7,871.2L492.8,871.8L491.3,873.2L489.5,873.9L487.7,874.6L486,875.4L484.2,875.7L482.3,876.9L480.6,878.3L479.7,881L481.5,883.6L480.2,884.8L478.8,885.8L477.1,886.2L475.4,887.6L473.6,888.9L472.3,890.3L471.5,892.1L470,893.3L469.1,894.7L468.4,896.3L467.4,897.7L465.6,899.2L464.7,901.3L463,903.9L463,920.7L463,939.2L499.2,939.7L499.2,956.9"/>
<path d="M427.7,921.6L428,938.3L427.3,974"/>
<path d="M442.1,1023.9L442.3,1021.7L442.7,1019.5L442.4,1017.7L443.6,1016.1L443.6,1014.2L442.4,1012.1L441.8,1009.8L442.7,1007.2L442.8,1005.4L442.9,1003.6L443.6,1001.9L444.5,1000.4L445,998.7L446.2,997.5L447.4,995.9L449.1,995L450.6,993.9L452.4,993.6L454.1,992.7L455.9,992.7L457.7,992.2L459.3,991.2L461.2,991.1L462.6,989.9L464.3,988.4L466.5,987.7L468.6,987L470,985.3L471.8,984.2L473.1,982.9L474.1,981.3L476,980.4L477.1,978.9L478.7,978L480.6,977.6L482.4,977.2L481.8,975.4L482.2,973.6L483,971.9L482.4,970.1L484.2,968.7L485,966.6L486.2,964.9L486.3,962.8L487.7,961.3L489.8,960.4L491.2,958.6L492.9,958.7L494.5,958.2L495.9,957.2L497.5,956.7L499.2,956.9L501.2,956.6L503.3,957L505.3,956.3L507.6,956.1L509.8,955.6L511.1,956.6L512.8,956.7L514.2,957.7L515.9,958.8L517.6,960.1L519.5,960.9L521.3,961.1L523,960.9L524.8,960.4L526.4,959.5L528.4,959.6L530.1,958.6L531.7,957.4L533.7,957.2L535.3,956L536.9,954.8L538.1,953.3L539.8,952.4L541,950.7L542.1,948.9L543.3,947.1L544.7,945.6L544.6,943.4L545.9,941.9L546.8,940.1"/>
<path d="M500,956.9L501.8,956.8L503.5,956.3L505.3,956.9L507.1,956.9L508.8,956L510.6,956L512.4,956.7L514.3,957.4L515.9,958.6L517.6,959.6L519.4,960.4L521.1,959.8L522.9,959.6L524.7,959.9L526.5,959.2L528.3,958.8L530,958.1L531.6,956.8L533.6,956.1L535.3,955.1L536.5,953.9L538.3,953.3L539,951.4L540.6,950.7L542.3,949.2L542.9,947.1L544.1,945.4L545,943.6L545.5,941.7L546.8,940.1"/>
<path d="M525.6,960.4L526.2,974.5L526.5,992.2L532.7,992.7L532.7,1008.9L533.2,1023.9"/>
<path d="M442.7,1009.3L497.4,1009.8L532.7,1009.3"/>
<path d="M497.4,1009.8L497.4,1023.9"/>
<path d="M541,892.8L575.6,893.3L575.6,939.7L570.6,939.7L568,938.3L566.2,935.1L560,934.4L554.7,934.8L551.2,937.4L546.8,940.1L545.5,934.8L544.1,924.2L543.2,910.4L533.2,910.1"/>
<path d="M541,892.8L541.5,910.1"/>
<path d="M570.6,939.7L571,948.9L570.6,957.7L569.7,961.3L572.4,963.9L577.7,964.4L581.2,962.7L586.5,963.4L590.9,965.7L593.6,968.3L598.9,968.7L601,968.3"/>
<path d="M611.2,976.3L611.6,992.2L603.3,992.7L602.4,1009.8L584.7,1010.3L584.4,1015.1L577.7,1014.6L570.6,1015.6L568,1016.9L567.6,1023.9"/>
<path stroke-width="2" d="M57.4,619.4L56.6,617.7L55.1,616.3L56.6,613.9L54.8,612.5L54.7,610.6L54,608.9L53.2,607.2L53.8,605.3L52.4,603.7L53,601.8L51.7,600.2L52.2,598.3L52.3,596.5L51,594.9L51.5,593L51.3,591.2L50.3,589.5L51.4,587.4L48.8,586.1L49.4,584.1L50,581.9L47.9,580.7L47.5,578.8L46,577.4L46.2,575.3L46.7,573.5L45.2,571.8L45.4,570L44.4,568.3L45.5,566.5L45.4,564.7L47.2,563.1L47.5,561.4L47.2,559.5L46.8,557.7L45.7,555.7L48.4,554.3L48.5,552.5L48.5,550.7L48,548.8L46.9,547.2L46.5,545.4L47.1,543.6L48,541.6L46.8,540L47.3,538.3L48.1,536.6L47.2,534.6L48.3,533L48.5,531.2L49.5,529.6L50.2,527.9L50.6,526.1L50.3,524.2L50.1,522.4L52.1,521.3L50.9,519.3L52.1,518L50.3,515.3L49.6,513.1L47.7,511.8L47.4,510L46.2,508.4L46.8,506.5L46.2,504.7L45.3,503L45.3,500.6L43.2,499.5L42.7,497.3L43.6,495.7L46.2,494.5L45.5,492.4L46.6,490.7L45.1,488.7L45.6,487L46.6,485.3L46.8,483.6L45.6,481.9L45.8,480.1L44.9,478.4L46.3,476.4L45.5,474.7L44.6,472.9L47.2,471.3L47.2,469.6L46.2,467.7L46.3,465.9L45.7,464.3L44.1,463.2L43.8,461.5L44.7,460L45.4,458.5L45.2,456.7L44.7,454.8L46.2,453.6L46.4,451.8L45.5,450.1L46.1,448.2L45.5,446.5L45.5,444.7L46.9,443.1L45.1,441.1L46.8,439.5L46.2,437.7L46.3,435.8L45.5,434.1L43.9,432.6L44.5,430.6L43.9,428.7L46.2,427.3L44.6,425.2L45.5,423.5L44,422.1L43.5,420.2L43.2,418.3L44.1,416.5L44.8,414.7L45.5,413L43.9,411.4L43.6,409.7L44.5,407.7L44.1,405.9L43.8,403.9L45.3,402.4L45.5,400.6L46.5,398.9L45,396.9L46.2,395.3L45.8,393.5L45.1,391.8L45.7,389.8L44.5,388.2L46.3,386.9L45.8,384.6L46.8,382.9L45.9,381.2L47.4,379.3L46.2,377.7L44.5,376.3L44.6,374.3L44.2,372.4L43.1,370.9L43.2,368.8L43.2,366.9L42.4,365.3L41.2,363.7L41.2,361.8L41,360L40.9,358.3L39.4,357.1L38.2,355.9L38.6,354L37.4,352.7L37.9,350.9L37.1,349.5L35.6,348L34.8,346.3L35.9,343.8L33.8,342.6L33.5,340.6L32.3,339.1L32.2,337.1L31.9,335.2L31.1,333.4L30,331.8L30.2,329.8L28.4,328.5L28.2,326.6L27.6,324.9L27.4,323L27.1,321.2L26.8,319.4L26.6,317.6L24.8,316.1L25.6,314.2L24.7,312.5L25.1,310.5L22.8,309.2L24.1,306.9L22.9,305.3L23.3,303.5L22.3,301.8L22.3,300L21.6,298.3L22.1,296.5L22.3,294.6L21.3,293L20.4,291.3L19.5,289.7L20.3,287.7L19.4,286L20.3,283.8L19.2,282.3L18.5,280.5L17.7,278.9L18.3,276.8L15.6,275.6L16.6,273.5L15.1,272L15.2,270.1L15,268.3L13.8,266.4L13.8,264.2L13.8,262.1L14.9,260.5L14.5,258.9L14.8,257.3L12.9,255.6L13.5,254L14.1,252.4L15,250.7L13.3,248.7L13.8,247L13.7,245.2L15,243.5L16.1,241.9L14.9,239.9L15.7,238.2L14.9,236.3L15.5,234.6L16.8,233L16.7,231.2L17.3,229.4L16,227.7L15.9,225.9L15,224.2L15.1,222.4L15.1,220.7L15.9,218.8L15.4,216.9L16.7,215.3L16.4,213.5L18.3,212L16.8,209.9L17.7,208.2L18.4,206.4L16.2,204.8L17.2,202.9L17.1,201.2L16.8,199.4L17.4,197.7L16.9,195.9L17.4,194.1L18.2,192.4L17.7,190.6L16,189.2L16,187L15,185.3L14.9,183.5L15.1,181.6L14.1,180"/>
</g>
<path class="st" d="M10.2,94.4L120,100.3L200,103.6L242.4,105L286.5,105.9L287.4,61.8L288.3,30.9L289.1,28.2L293.6,31.8L300.6,34.8L305.9,33.5L311.2,32.1L316.5,32.3L321.8,36.2L327.1,41L333.6,42.9L332,45.9L333.3,53L335,61.8L335.9,74.1L338.6,84.7L341.2,91.8L343,100.6L344.7,109.4L346.5,120L348.3,127.1L348.8,135.9L348.3,140.3L346.2,141.2L346.2,151.8L350,156.2L355.3,160.6L360.6,164.5L367.7,167.3L376.5,169.5L380.9,170.3L382.7,166.8L387.1,166.3L392.4,167.7L400,167.3L400,167.4L403.5,168.8L405.3,177.7L415.9,179.8L426.5,181.2L444.1,182.9L460,185.1L462.7,188.2L463.9,195.3L464.4,204.1L466.7,207.3L477.7,207.3L486.5,207.3L488.3,205L491.8,205.5L498.9,204.1L505.9,202.7L510.3,201L510.9,192.7L514.7,191.4L520,189.7L525.3,186.8L530.6,184.7L537.7,182.9L544.7,182.6L549.2,186.1L555.3,186.1L560.6,185.6L576.5,185.6L579.2,185.1L579.7,188.2L583.6,190.9L590.6,193.5L600,198L600,198.5L607.1,202.1L612.4,202.9L619.4,201.5L622.6,203.8L622.9,209.1L620.3,211.8L615,212.7L611.5,216.2L612,220.2L615.9,222.4L626.5,222.4L635.3,221.5L639.7,222.4L643.2,226.8L645.5,231.2L643.8,236.5L645,241.8L649.4,248.8L653,255.9L655.6,263L657.9,267L663.5,263.8L670.6,262.1L671.5,259.4L668,254.1L667.1,247.1L669.2,241.8L674.1,240.4L677.7,241.8L681.2,239.7L686.5,237.9L691.8,239.1L699.7,238.3L701.5,241.8L704.1,245.3L706.8,246.7L705.9,252.4L707.7,257.7L713,261.2L714.7,263L721.8,264.4L726.2,267.9L734.2,269.1L735.9,270L741.2,270.4L745.6,270L746.5,275.3L748.3,282.4L750,286.8L755.3,288L757.1,290.3L764.2,289.1L768,289.4L766.8,294.7L765.9,300.9L774.8,297.9L783.6,296.5L785.3,299.7L794.2,295.6L800,295.6L802.9,294.1L810,292.4L817.1,286.2L824.1,279.1L831.2,273.8L838.3,270.3L840.9,268.5L847.1,263.2L854.1,261L858.6,258.5L864.4,258.5L865.1,265.9L865.6,271.2L869.1,273.8L872.7,275.1L873.2,278.3L870.9,280L874.4,286.2L876.2,288.8L885.9,286.2L894.7,283.5L902.2,282.1L903.2,283.9L901.8,286.7L908.9,286.7L915.9,285.3L926.5,285.7L931.8,286.7L938.9,284.4L947.7,283.2L956.5,282.1L965.3,282.7L972.4,285L977.7,289.7L978.6,292.4L980.3,298.6L984.7,301.2L988.3,300.8L991.8,304.7L996.2,306.5L1000.6,303.8L1004.1,300.3L1011.2,298.6L1016.5,298.6L1021.8,301.2L1027.1,300.8L1031.5,298.6L1034.2,302.1L1039.5,301.6L1048.3,300.8L1041.2,303L1038.6,305.6L1039.5,309.1L1035.9,310L1034.2,306.5L1030.6,303.8L1028.9,305.6L1027.1,309.1L1028,311.8L1025.3,312.7L1023.6,310.9L1021.8,313.6L1016.5,318.9L1011.2,323.3L1004.1,326.8L998.9,329.4L991.8,332.1L988.3,335.6L983,338.3L975.9,341.8L970.6,343.9L963.5,346.7L956.5,349.7L949.4,352.4L942.4,354.5L935.3,357.3L928.2,359.5L921.2,362.1L914.1,364.7L907.1,368.3L900,372.2L885.9,382.4L878.9,387.7L871.8,393.9L864.7,398.3L862.1,400.1L860,402.4L843.6,416.5L829.5,430.6L818.9,444.7L810,455.3L799.5,469.4L794.2,474.7L787.1,481.8L781.8,486.2L776.5,491.5L769.5,495.9L765.9,501.2L760.6,506.5L755.3,510L750,513.6L744.7,518.9L739.5,525L732.4,528.6L727.1,533L721.8,537.4L718.3,540.1L719.4,538.8L707.1,547.7L698.3,555.6L701.8,560.9L708.8,572.4L708,572.8L700.9,564.4L700,564L694.7,564.4L691.2,568L691.6,570.6L685.9,571L683.2,573.2L685,575.5L687.7,575.9L686.8,578.1L684.1,579.4L683.2,583.8L678.8,584.3L675.3,582.1L671.8,582.1L671.5,583L671.5,631.8L671.5,691.8L672.6,693.6L672.6,699.8L669.5,701.5L666.8,703.3L665.9,707.7L664.2,712.1L658.9,712.6L655.3,713.9L651.8,716.5L650,720.1L649.2,719.7L646.5,721.5L641.2,719.7L637.7,722.4L635.9,726.2L630.6,726.8L625.3,729.4L620,733L614.7,736.5L611.2,740.9L608.6,747.1L605.9,750.6L606.8,755.9L604.1,760.3L601.5,765.6L597.1,769.1L591.8,772.7L590,778.9L589.1,785.9L588.3,793L589.1,798.3L590.4,802.7L598.9,803.6L605.9,804.4L610.3,808L611.6,814.2L614.7,819.5L617.4,824.7L621.8,825.6L623.2,830L622.7,835.3L620,838.9L617.4,843.3L615.6,847.7L615.1,853L611.2,856.5L608,860.1L607.7,859.8L608,865.9L607.3,874.8L608,881.8L609.4,888.9L609.8,896L605.9,899.5L602.4,903.9L603.3,908.3L605.9,912.7L606.3,918.9L605.6,926L607.3,931.3L605.9,938.3L606.8,947.1L605,956L602.4,963L601,968.3L605.9,971.9L611.2,976.3L616.5,980.7L621.8,986L626.2,990.4L628.9,995.7L634.2,998.3L636.8,1002.8L641.2,1004L648.3,1005.4L655.3,1006.3L662.4,1006.3L668.6,1007.2L672.1,1010.7L673.9,1016L675.6,1023.9L73.8,1023.9L74.5,1001.9L75.6,982.5L76.3,966.6L77.3,947.1L77.7,931.3L78.6,913.6L79.1,896L79.8,878.3L80.8,860.7L81.6,850.1L80.3,843L81.6,850L80.3,843L77.7,836.8L74.1,832.4L68.8,829.7L61.8,826.2L56.5,823.6L49.4,822.7L46.2,818.3L42.4,811.2L41,804.1L38,798.9L34.4,793.6L31.8,788.3L29.1,786.1L26.8,782.1L28.2,776.8L32.7,772.4L38,768L44.1,763.5L51.2,759.1L57.4,754.7L59.1,750.3L62.7,745.9L67.1,740.6L68.8,735.3L70.3,726.5L70.6,717.7L71.5,708.8L70.6,700L71.5,697.1L71.8,695.3L71.3,693.3L73.5,692L73.3,690L72.7,688.3L72.8,686.5L72.3,684.8L73,683L72.7,681.2L71.7,679.6L71.4,677.8L71.8,675.9L71.9,674.1L71.5,672.4L70.4,670.8L70.9,668.8L70.1,667.2L71.1,665.1L69.7,663.6L68.9,661.7L71,660.1L69.9,658.3L70.2,656.5L70.3,654.7L69.4,653L70.5,651.2L69.3,649.5L69.5,647.7L69.7,645.9L68.5,644L68.9,642L70.1,639.8L68.8,638L68.5,635.6L66.9,634.1L65.3,632.7L63.3,631.8L63.9,629L62.7,627.6L60.9,626.5L60.6,624.5L58.5,623.3L57.5,621.6L57.4,619.4L56.7,617.7L57.1,615.7L55.9,614.1L55.8,612.2L54.7,610.6L53.8,609L54.1,607.1L54.1,605.2L54,603.4L53,601.8L53.3,599.9L51.8,598.3L52.9,596.4L51.2,594.8L51.5,593L51.8,591L50.8,589.4L49.6,587.8L50,585.9L49.4,584.1L48.8,582.4L49.1,580.3L46.6,579.2L46.2,577.3L46.2,575.3L47.2,573.5L46.7,571.7L45.1,570.1L45.1,568.3L45.5,566.5L45.9,564.7L45.3,562.8L45.9,561.1L45.5,559.3L46.8,557.7L47.5,556L46.4,554L48.6,552.5L48.7,550.7L48,548.8L48.4,547L48.1,545.2L47,543.6L47.4,541.7L46.8,540L47.7,538.4L47.4,536.5L46.9,534.5L48.5,533L48.5,531.2L48.6,529.4L49.7,527.8L49.7,525.9L50.3,524.2L51.7,522.9L50.6,520.9L52.2,519.7L52.1,518L50.3,515.3L49.3,513.3L47.7,511.8L47.4,510L46,508.5L45.9,506.7L46.2,504.7L46.1,502.5L43.7,501.5L43.2,499.5L43.1,497.5L44,495.8L45,494.2L45.5,492.4L45.8,490.6L45,488.7L45.2,486.9L46.5,485.3L46.8,483.6L45.8,481.9L46.5,480L46.7,478.2L44.9,476.6L45.5,474.7L45.7,473L45.7,471.2L46.7,469.5L46.2,467.7L46.6,465.8L44.8,464.7L43.9,463.3L43.8,461.5L45.1,460.2L43.8,458L44.9,456.6L45.5,455.1L46.2,453.6L45.4,451.8L46.4,450L45.9,448.3L45.1,446.5L45.5,444.7L45.5,442.9L46.3,441.2L45.7,439.4L46.2,437.7L44.9,436.1L45.3,434.2L44.3,432.5L44.5,430.6L45,428.9L44.4,427L44.5,425.2L45.5,423.5L45.6,421.4L43.7,420.2L43.2,418.3L43.6,416.3L44.9,414.8L45.5,413L45.6,411.1L45.2,409.4L45.1,407.5L44.1,405.9L44.1,404L44.9,402.3L45.5,400.6L45.5,398.8L46,397.1L46.2,395.3L46,393.5L45.6,391.7L44,390.2L44.5,388.2L45,386.4L46.4,384.9L46.8,382.9L45.6,381.3L47,379.4L46.2,377.7L46,375.8L44.8,374.2L44.3,372.4L43.4,370.8L43.2,368.8L43.3,366.9L42.3,365.3L41.4,363.7L40.4,362L41,360L40.1,358.6L40.7,356.7L39.7,355.3L39,353.9L39.1,352.1L36.7,351.3L37.1,349.5L36.6,347.6L35,346.2L34.7,344.3L33.6,342.7L33.5,340.6L32.5,339L32.9,336.8L31.9,335.2L31.4,333.3L30,331.8L28.6,330.3L28.5,328.4L29,326.3L26.9,325L27.4,323L26.3,321.4L25.8,319.6L27,317.6L25.4,316L25.6,314.2L24.9,312.4L23.5,310.9L23.2,309.1L23.5,307.1L22.9,305.3L23.4,303.5L22.2,301.8L22,300.1L21.2,298.4L22.1,296.5L20.8,294.9L20.6,293.1L20.4,291.3L20.8,289.4L20.3,287.7L19.5,286L20.2,283.8L18.3,282.5L18.9,280.4L17.7,278.9L16.3,277.3L16.8,275.3L16.4,273.5L16.2,271.7L15.3,270.1L15,268.3L14.6,266.2L14.8,264L13.8,262.1L13.1,260.4L14,258.8L14.1,257.2L14.6,255.6L13.3,254L14.1,252.4L14.1,250.6L13.4,248.7L15,247.1L15.6,245.4L15,243.5L15,241.7L16.3,240.1L16.2,238.3L15.1,236.3L16.4,234.7L16.8,233L15.7,231.3L16.1,229.5L17.1,227.6L15.5,225.9L16.4,224.1L15.1,222.4L15.1,220.7L15.9,218.8L17.2,217.2L15.6,215.2L16.1,213.4L18,211.9L16.9,209.9L17.7,208.2L16.9,206.5L16.4,204.8L17.1,202.9L16,201.3L16.8,199.4L16.3,197.6L16.5,195.8L17.8,194.2L16.7,192.3L17.7,190.6L16.9,188.7L15.4,187.3L15,185.3L15.8,183.4L15.5,181.6L14.1,180L16,179.5L17.1,178.3L17.7,176.5L18.6,174.8L20.3,173.4L20.3,171.2L21.5,169.6L21.4,167.4L22.9,165.9L24,164.6L24.7,163.1L23.5,161L25.1,159.8L23.8,158.6L24.2,156.5L22.9,155.3L23,153.4L22,151.8L20.6,150.3L20.8,148.3L19.9,146.6L19.3,144.9L20.5,142.7L18.4,141.4L18.5,139.5L17.7,137.8L17.9,135.8L17.3,134.1L16.5,132.4L15.9,130.6L16.2,128.9L16.7,127.1L16.8,125.3L15.9,123.6L14.5,122L13.8,120.3L15.2,118L14.6,116.2L13.2,114.7L12.4,113.1L12,111.3L12,109.3L11,107.7L10.6,105.9L9.5,104.3L9.6,102.5L9.5,100.7L9.7,98.9Z"/>
<g shape-rendering="crispEdges" stroke="#000" stroke-width="1">
<rect x="938.5" y="364.5" width="32" height="51" fill="#e5a5ff"/>
<rect x="938.5" y="415.5" width="32" height="51" fill="#cc33ff"/>
<rect x="938.5" y="466.5" width="32" height="51" fill="#0000ff"/>
<rect x="938.5" y="517.5" width="32" height="51" fill="#00ccff"/>
<rect x="938.5" y="568.5" width="32" height="51" fill="#00ffff"/>
<rect x="938.5" y="619.5" width="32" height="51" fill="#00ff00"/>
<rect x="938.5" y="670.5" width="32" height="51" fill="#ffff00"/>
<rect x="938.5" y="721.5" width="32" height="50" fill="#ff9900"/>
<rect x="938.5" y="771.5" width="32" height="51" fill="#ff0000"/>
<rect x="938.5" y="822.5" width="32" height="51" fill="#cc3333"/>
</g>
<g class="tx">
<text class="n" transform="translate(979.9,429.0) scale(1,1.040)">9</text>
<text class="n" transform="translate(979.9,480.0) scale(1,1.040)">8</text>
<text class="n" transform="translate(979.9,531.0) scale(1,1.040)">7</text>
<text class="n" transform="translate(979.9,582.0) scale(1,1.040)">6</text>
<text class="n" transform="translate(979.9,633.0) scale(1,1.040)">5</text>
<text class="n" transform="translate(979.9,684.0) scale(1,1.040)">4</text>
<text class="n" transform="translate(979.9,735.0) scale(1,1.040)">3</text>
<text class="n" transform="translate(979.9,785.0) scale(1,1.040)">2</text>
<text class="n" transform="translate(979.9,836.0) scale(1,1.040)">1</text>
<text class="n" transform="translate(979.9,887.0) scale(1,1.040)">0</text>
<text class="n u" transform="translate(1021.4,836.0) scale(1,1.040)">inches</text>
<text class="t" transform="translate(515.6,92.0) scale(1,1.040)">Precipitation Total</text>
<text class="t" transform="translate(516.4,155.0) scale(1,1.040)">July 11-12 2016</text>
<text class="c" transform="translate(820.3,910.7) scale(1,1.040)">MNDNR</text>
<text class="c" transform="translate(845.0,950.5) scale(1,1.040)">State Climatology Office</text>
</g>
</svg>
</body>
</html>
